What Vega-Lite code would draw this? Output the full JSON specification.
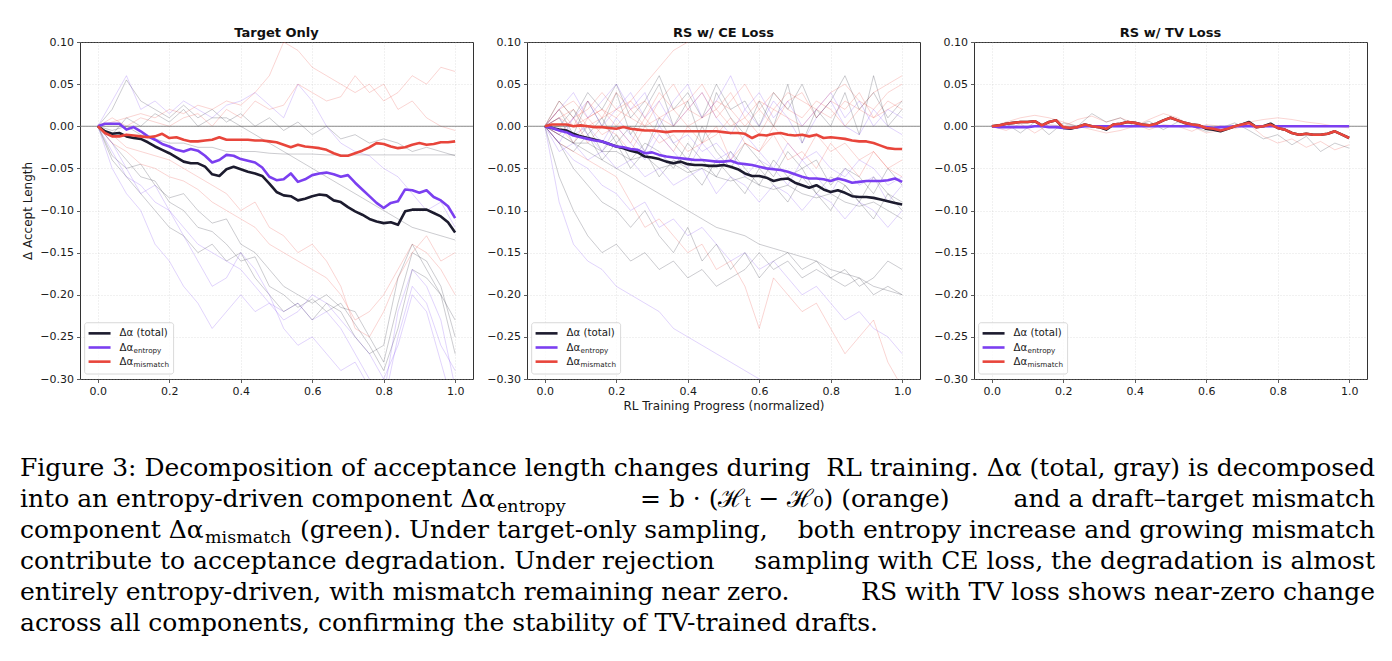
{
  "$schema": "https://vega.github.io/schema/vega-lite/v6.json",
  "description": "Decomposition of acceptance length changes during RL training: total, entropy-driven and mismatch components for three training setups, with per-run traces behind the means.",
  "background": "white",
  "padding": {"left": 20, "top": 26, "right": 5, "bottom": 5},
  "config": {
    "font": "DejaVu Sans",
    "view": {"stroke": "#333333", "strokeWidth": 1},
    "axis": {
      "labelFont": "DejaVu Sans", "labelFontSize": 11, "labelColor": "#1a1a1a", "labelPadding": 3,
      "tickColor": "#333333", "tickSize": 3.5, "tickWidth": 0.8,
      "domain": false, "grid": true, "gridColor": "#b8b8b8", "gridDash": [1, 2], "gridOpacity": 0.5, "gridWidth": 0.8,
      "titleFont": "DejaVu Sans", "titleFontSize": 12, "titleFontWeight": "normal", "titleColor": "#1a1a1a", "titlePadding": 5
    },
    "title": {"font": "DejaVu Sans", "fontSize": 13, "fontWeight": "bold", "color": "#111111", "offset": -3.5, "anchor": "middle"}
  },
  "datasets": {
    "leg": [
      {"k": "t", "lab": "Δα (total)", "sub": ""},
      {"k": "e", "lab": "Δα", "sub": "entropy"},
      {"k": "m", "lab": "Δα", "sub": "mismatch"}
    ],
    "cap": [
      {"line": 1, "part": "L", "text": "Figure 3: Decomposition of acceptance length changes during"},
      {"line": 1, "part": "R", "text": "RL training. Δα (total, gray) is decomposed"},
      {"line": 2, "part": "L", "text": "into an entropy-driven component Δα"},
      {"line": 2, "part": "S", "text": "entropy"},
      {"line": 2, "part": "M", "text": "= b · (ℋₜ − ℋ₀) (orange)"},
      {"line": 2, "part": "R", "text": "and a draft–target mismatch"},
      {"line": 3, "part": "L", "text": "component Δα"},
      {"line": 3, "part": "S", "text": "mismatch"},
      {"line": 3, "part": "M", "text": "(green). Under target-only sampling,"},
      {"line": 3, "part": "R", "text": "both entropy increase and growing mismatch"},
      {"line": 4, "part": "L", "text": "contribute to acceptance degradation. Under rejection"},
      {"line": 4, "part": "R", "text": "sampling with CE loss, the degradation is almost"},
      {"line": 5, "part": "L", "text": "entirely entropy-driven, with mismatch remaining near zero."},
      {"line": 5, "part": "R", "text": "RS with TV loss shows near-zero change"},
      {"line": 6, "part": "L", "text": "across all components, confirming the stability of TV-trained drafts."}
    ],
    "main1": [
      {"k":"t","x":0,"y":0},{"k":"t","x":0.02,"y":-0.006},{"k":"t","x":0.04,"y":-0.009},{"k":"t","x":0.06,"y":-0.008},{"k":"t","x":0.08,"y":-0.012},{"k":"t","x":0.1,"y":-0.014},{"k":"t","x":0.12,"y":-0.015},{"k":"t","x":0.14,"y":-0.019},{"k":"t","x":0.16,"y":-0.024},{"k":"t","x":0.18,"y":-0.028},{"k":"t","x":0.2,"y":-0.032},{"k":"t","x":0.22,"y":-0.037},{"k":"t","x":0.24,"y":-0.042},{"k":"t","x":0.26,"y":-0.044},{"k":"t","x":0.28,"y":-0.044},{"k":"t","x":0.3,"y":-0.048},{"k":"t","x":0.32,"y":-0.057},{"k":"t","x":0.34,"y":-0.059},{"k":"t","x":0.36,"y":-0.051},{"k":"t","x":0.38,"y":-0.048},{"k":"t","x":0.4,"y":-0.051},{"k":"t","x":0.42,"y":-0.054},{"k":"t","x":0.44,"y":-0.056},{"k":"t","x":0.46,"y":-0.059},{"k":"t","x":0.48,"y":-0.068},{"k":"t","x":0.5,"y":-0.078},{"k":"t","x":0.52,"y":-0.082},{"k":"t","x":0.54,"y":-0.083},{"k":"t","x":0.56,"y":-0.088},{"k":"t","x":0.58,"y":-0.086},{"k":"t","x":0.6,"y":-0.083},{"k":"t","x":0.62,"y":-0.081},{"k":"t","x":0.64,"y":-0.082},{"k":"t","x":0.66,"y":-0.088},{"k":"t","x":0.68,"y":-0.09},{"k":"t","x":0.7,"y":-0.096},{"k":"t","x":0.72,"y":-0.101},{"k":"t","x":0.74,"y":-0.105},{"k":"t","x":0.76,"y":-0.11},{"k":"t","x":0.78,"y":-0.113},{"k":"t","x":0.8,"y":-0.115},{"k":"t","x":0.82,"y":-0.114},{"k":"t","x":0.84,"y":-0.117},{"k":"t","x":0.86,"y":-0.101},{"k":"t","x":0.88,"y":-0.099},{"k":"t","x":0.9,"y":-0.099},{"k":"t","x":0.92,"y":-0.099},{"k":"t","x":0.94,"y":-0.103},{"k":"t","x":0.96,"y":-0.107},{"k":"t","x":0.98,"y":-0.114},{"k":"t","x":1,"y":-0.126},
      {"k":"e","x":0,"y":0},{"k":"e","x":0.02,"y":0.003},{"k":"e","x":0.04,"y":0.003},{"k":"e","x":0.06,"y":0.003},{"k":"e","x":0.08,"y":-0.004},{"k":"e","x":0.1,"y":-0.001},{"k":"e","x":0.12,"y":-0.006},{"k":"e","x":0.14,"y":-0.012},{"k":"e","x":0.16,"y":-0.016},{"k":"e","x":0.18,"y":-0.021},{"k":"e","x":0.2,"y":-0.024},{"k":"e","x":0.22,"y":-0.028},{"k":"e","x":0.24,"y":-0.03},{"k":"e","x":0.26,"y":-0.027},{"k":"e","x":0.28,"y":-0.029},{"k":"e","x":0.3,"y":-0.035},{"k":"e","x":0.32,"y":-0.043},{"k":"e","x":0.34,"y":-0.04},{"k":"e","x":0.36,"y":-0.034},{"k":"e","x":0.38,"y":-0.035},{"k":"e","x":0.4,"y":-0.039},{"k":"e","x":0.42,"y":-0.041},{"k":"e","x":0.44,"y":-0.043},{"k":"e","x":0.46,"y":-0.049},{"k":"e","x":0.48,"y":-0.06},{"k":"e","x":0.5,"y":-0.064},{"k":"e","x":0.52,"y":-0.063},{"k":"e","x":0.54,"y":-0.056},{"k":"e","x":0.56,"y":-0.066},{"k":"e","x":0.58,"y":-0.063},{"k":"e","x":0.6,"y":-0.058},{"k":"e","x":0.62,"y":-0.056},{"k":"e","x":0.64,"y":-0.055},{"k":"e","x":0.66,"y":-0.057},{"k":"e","x":0.68,"y":-0.06},{"k":"e","x":0.7,"y":-0.058},{"k":"e","x":0.72,"y":-0.067},{"k":"e","x":0.74,"y":-0.075},{"k":"e","x":0.76,"y":-0.083},{"k":"e","x":0.78,"y":-0.091},{"k":"e","x":0.8,"y":-0.097},{"k":"e","x":0.82,"y":-0.091},{"k":"e","x":0.84,"y":-0.089},{"k":"e","x":0.86,"y":-0.075},{"k":"e","x":0.88,"y":-0.076},{"k":"e","x":0.9,"y":-0.079},{"k":"e","x":0.92,"y":-0.076},{"k":"e","x":0.94,"y":-0.084},{"k":"e","x":0.96,"y":-0.088},{"k":"e","x":0.98,"y":-0.095},{"k":"e","x":1,"y":-0.109},
      {"k":"m","x":0,"y":0},{"k":"m","x":0.02,"y":-0.008},{"k":"m","x":0.04,"y":-0.012},{"k":"m","x":0.06,"y":-0.012},{"k":"m","x":0.08,"y":-0.01},{"k":"m","x":0.1,"y":-0.011},{"k":"m","x":0.12,"y":-0.012},{"k":"m","x":0.14,"y":-0.013},{"k":"m","x":0.16,"y":-0.012},{"k":"m","x":0.18,"y":-0.009},{"k":"m","x":0.2,"y":-0.014},{"k":"m","x":0.22,"y":-0.013},{"k":"m","x":0.24,"y":-0.016},{"k":"m","x":0.26,"y":-0.018},{"k":"m","x":0.28,"y":-0.018},{"k":"m","x":0.3,"y":-0.017},{"k":"m","x":0.32,"y":-0.016},{"k":"m","x":0.34,"y":-0.013},{"k":"m","x":0.36,"y":-0.016},{"k":"m","x":0.38,"y":-0.016},{"k":"m","x":0.4,"y":-0.016},{"k":"m","x":0.42,"y":-0.016},{"k":"m","x":0.44,"y":-0.017},{"k":"m","x":0.46,"y":-0.017},{"k":"m","x":0.48,"y":-0.018},{"k":"m","x":0.5,"y":-0.019},{"k":"m","x":0.52,"y":-0.022},{"k":"m","x":0.54,"y":-0.025},{"k":"m","x":0.56,"y":-0.022},{"k":"m","x":0.58,"y":-0.024},{"k":"m","x":0.6,"y":-0.025},{"k":"m","x":0.62,"y":-0.026},{"k":"m","x":0.64,"y":-0.028},{"k":"m","x":0.66,"y":-0.032},{"k":"m","x":0.68,"y":-0.035},{"k":"m","x":0.7,"y":-0.035},{"k":"m","x":0.72,"y":-0.032},{"k":"m","x":0.74,"y":-0.029},{"k":"m","x":0.76,"y":-0.025},{"k":"m","x":0.78,"y":-0.02},{"k":"m","x":0.8,"y":-0.021},{"k":"m","x":0.82,"y":-0.024},{"k":"m","x":0.84,"y":-0.026},{"k":"m","x":0.86,"y":-0.025},{"k":"m","x":0.88,"y":-0.022},{"k":"m","x":0.9,"y":-0.02},{"k":"m","x":0.92,"y":-0.022},{"k":"m","x":0.94,"y":-0.021},{"k":"m","x":0.96,"y":-0.019},{"k":"m","x":0.98,"y":-0.019},{"k":"m","x":1,"y":-0.018}
    ],
    "main2": [
      {"k":"t","x":0,"y":0},{"k":"t","x":0.02,"y":-0.002},{"k":"t","x":0.04,"y":-0.004},{"k":"t","x":0.06,"y":-0.005},{"k":"t","x":0.08,"y":-0.009},{"k":"t","x":0.1,"y":-0.012},{"k":"t","x":0.12,"y":-0.014},{"k":"t","x":0.14,"y":-0.016},{"k":"t","x":0.16,"y":-0.018},{"k":"t","x":0.18,"y":-0.021},{"k":"t","x":0.2,"y":-0.024},{"k":"t","x":0.22,"y":-0.026},{"k":"t","x":0.24,"y":-0.029},{"k":"t","x":0.26,"y":-0.031},{"k":"t","x":0.28,"y":-0.036},{"k":"t","x":0.3,"y":-0.037},{"k":"t","x":0.32,"y":-0.039},{"k":"t","x":0.34,"y":-0.042},{"k":"t","x":0.36,"y":-0.044},{"k":"t","x":0.38,"y":-0.042},{"k":"t","x":0.4,"y":-0.045},{"k":"t","x":0.42,"y":-0.046},{"k":"t","x":0.44,"y":-0.046},{"k":"t","x":0.46,"y":-0.047},{"k":"t","x":0.48,"y":-0.047},{"k":"t","x":0.5,"y":-0.046},{"k":"t","x":0.52,"y":-0.048},{"k":"t","x":0.54,"y":-0.051},{"k":"t","x":0.56,"y":-0.056},{"k":"t","x":0.58,"y":-0.059},{"k":"t","x":0.6,"y":-0.059},{"k":"t","x":0.62,"y":-0.061},{"k":"t","x":0.64,"y":-0.065},{"k":"t","x":0.66,"y":-0.063},{"k":"t","x":0.68,"y":-0.062},{"k":"t","x":0.7,"y":-0.067},{"k":"t","x":0.72,"y":-0.07},{"k":"t","x":0.74,"y":-0.073},{"k":"t","x":0.76,"y":-0.07},{"k":"t","x":0.78,"y":-0.075},{"k":"t","x":0.8,"y":-0.078},{"k":"t","x":0.82,"y":-0.076},{"k":"t","x":0.84,"y":-0.079},{"k":"t","x":0.86,"y":-0.083},{"k":"t","x":0.88,"y":-0.084},{"k":"t","x":0.9,"y":-0.084},{"k":"t","x":0.92,"y":-0.085},{"k":"t","x":0.94,"y":-0.087},{"k":"t","x":0.96,"y":-0.089},{"k":"t","x":0.98,"y":-0.091},{"k":"t","x":1,"y":-0.093},
      {"k":"e","x":0,"y":0},{"k":"e","x":0.02,"y":-0.002},{"k":"e","x":0.04,"y":-0.005},{"k":"e","x":0.06,"y":-0.007},{"k":"e","x":0.08,"y":-0.011},{"k":"e","x":0.1,"y":-0.013},{"k":"e","x":0.12,"y":-0.015},{"k":"e","x":0.14,"y":-0.017},{"k":"e","x":0.16,"y":-0.018},{"k":"e","x":0.18,"y":-0.021},{"k":"e","x":0.2,"y":-0.024},{"k":"e","x":0.22,"y":-0.025},{"k":"e","x":0.24,"y":-0.027},{"k":"e","x":0.26,"y":-0.028},{"k":"e","x":0.28,"y":-0.032},{"k":"e","x":0.3,"y":-0.031},{"k":"e","x":0.32,"y":-0.034},{"k":"e","x":0.34,"y":-0.036},{"k":"e","x":0.36,"y":-0.037},{"k":"e","x":0.38,"y":-0.038},{"k":"e","x":0.4,"y":-0.039},{"k":"e","x":0.42,"y":-0.04},{"k":"e","x":0.44,"y":-0.04},{"k":"e","x":0.46,"y":-0.041},{"k":"e","x":0.48,"y":-0.042},{"k":"e","x":0.5,"y":-0.042},{"k":"e","x":0.52,"y":-0.041},{"k":"e","x":0.54,"y":-0.044},{"k":"e","x":0.56,"y":-0.045},{"k":"e","x":0.58,"y":-0.046},{"k":"e","x":0.6,"y":-0.048},{"k":"e","x":0.62,"y":-0.05},{"k":"e","x":0.64,"y":-0.051},{"k":"e","x":0.66,"y":-0.052},{"k":"e","x":0.68,"y":-0.054},{"k":"e","x":0.7,"y":-0.057},{"k":"e","x":0.72,"y":-0.06},{"k":"e","x":0.74,"y":-0.062},{"k":"e","x":0.76,"y":-0.062},{"k":"e","x":0.78,"y":-0.063},{"k":"e","x":0.8,"y":-0.065},{"k":"e","x":0.82,"y":-0.062},{"k":"e","x":0.84,"y":-0.064},{"k":"e","x":0.86,"y":-0.067},{"k":"e","x":0.88,"y":-0.066},{"k":"e","x":0.9,"y":-0.065},{"k":"e","x":0.92,"y":-0.065},{"k":"e","x":0.94,"y":-0.065},{"k":"e","x":0.96,"y":-0.064},{"k":"e","x":0.98,"y":-0.062},{"k":"e","x":1,"y":-0.066},
      {"k":"m","x":0,"y":0},{"k":"m","x":0.02,"y":0.002},{"k":"m","x":0.04,"y":0.002},{"k":"m","x":0.06,"y":0.002},{"k":"m","x":0.08,"y":0},{"k":"m","x":0.1,"y":0.001},{"k":"m","x":0.12,"y":0},{"k":"m","x":0.14,"y":-0.001},{"k":"m","x":0.16,"y":-0.001},{"k":"m","x":0.18,"y":-0.002},{"k":"m","x":0.2,"y":-0.003},{"k":"m","x":0.22,"y":-0.001},{"k":"m","x":0.24,"y":-0.003},{"k":"m","x":0.26,"y":-0.004},{"k":"m","x":0.28,"y":-0.005},{"k":"m","x":0.3,"y":-0.005},{"k":"m","x":0.32,"y":-0.006},{"k":"m","x":0.34,"y":-0.007},{"k":"m","x":0.36,"y":-0.006},{"k":"m","x":0.38,"y":-0.006},{"k":"m","x":0.4,"y":-0.006},{"k":"m","x":0.42,"y":-0.006},{"k":"m","x":0.44,"y":-0.006},{"k":"m","x":0.46,"y":-0.006},{"k":"m","x":0.48,"y":-0.006},{"k":"m","x":0.5,"y":-0.007},{"k":"m","x":0.52,"y":-0.008},{"k":"m","x":0.54,"y":-0.008},{"k":"m","x":0.56,"y":-0.009},{"k":"m","x":0.58,"y":-0.014},{"k":"m","x":0.6,"y":-0.01},{"k":"m","x":0.62,"y":-0.011},{"k":"m","x":0.64,"y":-0.009},{"k":"m","x":0.66,"y":-0.008},{"k":"m","x":0.68,"y":-0.01},{"k":"m","x":0.7,"y":-0.011},{"k":"m","x":0.72,"y":-0.01},{"k":"m","x":0.74,"y":-0.012},{"k":"m","x":0.76,"y":-0.01},{"k":"m","x":0.78,"y":-0.014},{"k":"m","x":0.8,"y":-0.013},{"k":"m","x":0.82,"y":-0.014},{"k":"m","x":0.84,"y":-0.015},{"k":"m","x":0.86,"y":-0.017},{"k":"m","x":0.88,"y":-0.018},{"k":"m","x":0.9,"y":-0.018},{"k":"m","x":0.92,"y":-0.02},{"k":"m","x":0.94,"y":-0.023},{"k":"m","x":0.96,"y":-0.026},{"k":"m","x":0.98,"y":-0.027},{"k":"m","x":1,"y":-0.027}
    ],
    "main3": [
      {"k":"t","x":0,"y":0},{"k":"t","x":0.02,"y":0.001},{"k":"t","x":0.04,"y":0.003},{"k":"t","x":0.06,"y":0.004},{"k":"t","x":0.08,"y":0.005},{"k":"t","x":0.1,"y":0.005},{"k":"t","x":0.12,"y":0.006},{"k":"t","x":0.14,"y":0.001},{"k":"t","x":0.16,"y":0.005},{"k":"t","x":0.18,"y":0.007},{"k":"t","x":0.2,"y":-0.002},{"k":"t","x":0.22,"y":-0.003},{"k":"t","x":0.24,"y":-0.001},{"k":"t","x":0.26,"y":0.002},{"k":"t","x":0.28,"y":0},{"k":"t","x":0.3,"y":-0.001},{"k":"t","x":0.32,"y":-0.004},{"k":"t","x":0.34,"y":0.002},{"k":"t","x":0.36,"y":0.003},{"k":"t","x":0.38,"y":0.005},{"k":"t","x":0.4,"y":0.004},{"k":"t","x":0.42,"y":0.002},{"k":"t","x":0.44,"y":0.001},{"k":"t","x":0.46,"y":0.003},{"k":"t","x":0.48,"y":0.007},{"k":"t","x":0.5,"y":0.01},{"k":"t","x":0.52,"y":0.007},{"k":"t","x":0.54,"y":0.004},{"k":"t","x":0.56,"y":0.002},{"k":"t","x":0.58,"y":0.001},{"k":"t","x":0.6,"y":-0.003},{"k":"t","x":0.62,"y":-0.004},{"k":"t","x":0.64,"y":-0.006},{"k":"t","x":0.66,"y":-0.003},{"k":"t","x":0.68,"y":0},{"k":"t","x":0.7,"y":0.002},{"k":"t","x":0.72,"y":0.005},{"k":"t","x":0.74,"y":-0.001},{"k":"t","x":0.76,"y":0},{"k":"t","x":0.78,"y":0.003},{"k":"t","x":0.8,"y":-0.002},{"k":"t","x":0.82,"y":-0.004},{"k":"t","x":0.84,"y":-0.008},{"k":"t","x":0.86,"y":-0.01},{"k":"t","x":0.88,"y":-0.009},{"k":"t","x":0.9,"y":-0.01},{"k":"t","x":0.92,"y":-0.01},{"k":"t","x":0.94,"y":-0.009},{"k":"t","x":0.96,"y":-0.006},{"k":"t","x":0.98,"y":-0.01},{"k":"t","x":1,"y":-0.014},
      {"k":"e","x":0,"y":0},{"k":"e","x":0.02,"y":-0.001},{"k":"e","x":0.04,"y":-0.001},{"k":"e","x":0.06,"y":-0.001},{"k":"e","x":0.08,"y":-0.001},{"k":"e","x":0.1,"y":-0.001},{"k":"e","x":0.12,"y":0},{"k":"e","x":0.14,"y":0},{"k":"e","x":0.16,"y":-0.001},{"k":"e","x":0.18,"y":-0.001},{"k":"e","x":0.2,"y":-0.002},{"k":"e","x":0.22,"y":-0.002},{"k":"e","x":0.24,"y":-0.001},{"k":"e","x":0.26,"y":0},{"k":"e","x":0.28,"y":0},{"k":"e","x":0.3,"y":0},{"k":"e","x":0.32,"y":0},{"k":"e","x":0.34,"y":0},{"k":"e","x":0.36,"y":0},{"k":"e","x":0.38,"y":0},{"k":"e","x":0.4,"y":0},{"k":"e","x":0.42,"y":0},{"k":"e","x":0.44,"y":0},{"k":"e","x":0.46,"y":0},{"k":"e","x":0.48,"y":0},{"k":"e","x":0.5,"y":0},{"k":"e","x":0.52,"y":0},{"k":"e","x":0.54,"y":0},{"k":"e","x":0.56,"y":0},{"k":"e","x":0.58,"y":-0.001},{"k":"e","x":0.6,"y":-0.001},{"k":"e","x":0.62,"y":-0.002},{"k":"e","x":0.64,"y":-0.001},{"k":"e","x":0.66,"y":-0.001},{"k":"e","x":0.68,"y":0},{"k":"e","x":0.7,"y":0},{"k":"e","x":0.72,"y":0},{"k":"e","x":0.74,"y":0},{"k":"e","x":0.76,"y":0},{"k":"e","x":0.78,"y":0},{"k":"e","x":0.8,"y":0},{"k":"e","x":0.82,"y":0},{"k":"e","x":0.84,"y":0},{"k":"e","x":0.86,"y":0},{"k":"e","x":0.88,"y":0},{"k":"e","x":0.9,"y":0},{"k":"e","x":0.92,"y":0},{"k":"e","x":0.94,"y":0},{"k":"e","x":0.96,"y":0},{"k":"e","x":0.98,"y":0},{"k":"e","x":1,"y":0},
      {"k":"m","x":0,"y":0},{"k":"m","x":0.02,"y":0.001},{"k":"m","x":0.04,"y":0.003},{"k":"m","x":0.06,"y":0.004},{"k":"m","x":0.08,"y":0.005},{"k":"m","x":0.1,"y":0.005},{"k":"m","x":0.12,"y":0.006},{"k":"m","x":0.14,"y":0.001},{"k":"m","x":0.16,"y":0.005},{"k":"m","x":0.18,"y":0.007},{"k":"m","x":0.2,"y":-0.001},{"k":"m","x":0.22,"y":-0.002},{"k":"m","x":0.24,"y":-0.001},{"k":"m","x":0.26,"y":0.002},{"k":"m","x":0.28,"y":0},{"k":"m","x":0.3,"y":-0.001},{"k":"m","x":0.32,"y":-0.003},{"k":"m","x":0.34,"y":0.002},{"k":"m","x":0.36,"y":0.003},{"k":"m","x":0.38,"y":0.005},{"k":"m","x":0.4,"y":0.004},{"k":"m","x":0.42,"y":0.002},{"k":"m","x":0.44,"y":0.001},{"k":"m","x":0.46,"y":0.003},{"k":"m","x":0.48,"y":0.007},{"k":"m","x":0.5,"y":0.01},{"k":"m","x":0.52,"y":0.007},{"k":"m","x":0.54,"y":0.004},{"k":"m","x":0.56,"y":0.002},{"k":"m","x":0.58,"y":0.001},{"k":"m","x":0.6,"y":-0.002},{"k":"m","x":0.62,"y":-0.003},{"k":"m","x":0.64,"y":-0.005},{"k":"m","x":0.66,"y":-0.003},{"k":"m","x":0.68,"y":0},{"k":"m","x":0.7,"y":0.002},{"k":"m","x":0.72,"y":0.004},{"k":"m","x":0.74,"y":-0.001},{"k":"m","x":0.76,"y":0},{"k":"m","x":0.78,"y":0.002},{"k":"m","x":0.8,"y":-0.002},{"k":"m","x":0.82,"y":-0.004},{"k":"m","x":0.84,"y":-0.008},{"k":"m","x":0.86,"y":-0.01},{"k":"m","x":0.88,"y":-0.009},{"k":"m","x":0.9,"y":-0.01},{"k":"m","x":0.92,"y":-0.01},{"k":"m","x":0.94,"y":-0.009},{"k":"m","x":0.96,"y":-0.006},{"k":"m","x":0.98,"y":-0.01},{"k":"m","x":1,"y":-0.014}
    ],
    "runs1": [
      {"k":"t","r":1,"x":0,"y":0},{"k":"t","r":1,"x":0.04,"y":-0.035},{"k":"t","r":1,"x":0.08,"y":-0.05},{"k":"t","r":1,"x":0.12,"y":-0.045},{"k":"t","r":1,"x":0.16,"y":-0.07},{"k":"t","r":1,"x":0.2,"y":-0.085},{"k":"t","r":1,"x":0.24,"y":-0.08},{"k":"t","r":1,"x":0.28,"y":-0.1},{"k":"t","r":1,"x":0.32,"y":-0.115},{"k":"t","r":1,"x":0.36,"y":-0.11},{"k":"t","r":1,"x":0.4,"y":-0.14},{"k":"t","r":1,"x":0.44,"y":-0.15},{"k":"t","r":1,"x":0.48,"y":-0.17},{"k":"t","r":1,"x":0.52,"y":-0.19},{"k":"t","r":1,"x":0.56,"y":-0.2},{"k":"t","r":1,"x":0.6,"y":-0.21},{"k":"t","r":1,"x":0.64,"y":-0.2},{"k":"t","r":1,"x":0.68,"y":-0.215},{"k":"t","r":1,"x":0.72,"y":-0.22},{"k":"t","r":1,"x":0.76,"y":-0.25},{"k":"t","r":1,"x":0.8,"y":-0.28},{"k":"t","r":1,"x":0.84,"y":-0.21},{"k":"t","r":1,"x":0.88,"y":-0.15},{"k":"t","r":1,"x":0.92,"y":-0.16},{"k":"t","r":1,"x":0.96,"y":-0.19},{"k":"t","r":1,"x":1,"y":-0.25},
      {"k":"t","r":2,"x":0,"y":0},{"k":"t","r":2,"x":0.04,"y":-0.02},{"k":"t","r":2,"x":0.08,"y":-0.04},{"k":"t","r":2,"x":0.12,"y":-0.06},{"k":"t","r":2,"x":0.16,"y":-0.065},{"k":"t","r":2,"x":0.2,"y":-0.09},{"k":"t","r":2,"x":0.24,"y":-0.1},{"k":"t","r":2,"x":0.28,"y":-0.12},{"k":"t","r":2,"x":0.32,"y":-0.125},{"k":"t","r":2,"x":0.36,"y":-0.14},{"k":"t","r":2,"x":0.4,"y":-0.16},{"k":"t","r":2,"x":0.44,"y":-0.155},{"k":"t","r":2,"x":0.48,"y":-0.19},{"k":"t","r":2,"x":0.52,"y":-0.2},{"k":"t","r":2,"x":0.56,"y":-0.215},{"k":"t","r":2,"x":0.6,"y":-0.205},{"k":"t","r":2,"x":0.64,"y":-0.22},{"k":"t","r":2,"x":0.68,"y":-0.21},{"k":"t","r":2,"x":0.72,"y":-0.235},{"k":"t","r":2,"x":0.76,"y":-0.26},{"k":"t","r":2,"x":0.8,"y":-0.29},{"k":"t","r":2,"x":0.84,"y":-0.24},{"k":"t","r":2,"x":0.88,"y":-0.17},{"k":"t","r":2,"x":0.92,"y":-0.18},{"k":"t","r":2,"x":0.96,"y":-0.2},{"k":"t","r":2,"x":1,"y":-0.27},
      {"k":"e","r":3,"x":0,"y":0},{"k":"e","r":3,"x":0.04,"y":-0.03},{"k":"e","r":3,"x":0.08,"y":-0.06},{"k":"e","r":3,"x":0.12,"y":-0.07},{"k":"e","r":3,"x":0.16,"y":-0.09},{"k":"e","r":3,"x":0.2,"y":-0.1},{"k":"e","r":3,"x":0.24,"y":-0.12},{"k":"e","r":3,"x":0.28,"y":-0.14},{"k":"e","r":3,"x":0.32,"y":-0.15},{"k":"e","r":3,"x":0.36,"y":-0.16},{"k":"e","r":3,"x":0.4,"y":-0.17},{"k":"e","r":3,"x":0.44,"y":-0.19},{"k":"e","r":3,"x":0.48,"y":-0.21},{"k":"e","r":3,"x":0.52,"y":-0.22},{"k":"e","r":3,"x":0.56,"y":-0.21},{"k":"e","r":3,"x":0.6,"y":-0.23},{"k":"e","r":3,"x":0.64,"y":-0.22},{"k":"e","r":3,"x":0.68,"y":-0.24},{"k":"e","r":3,"x":0.72,"y":-0.27},{"k":"e","r":3,"x":0.76,"y":-0.3},{"k":"e","r":3,"x":0.8,"y":-0.32},{"k":"e","r":3,"x":0.84,"y":-0.22},{"k":"e","r":3,"x":0.88,"y":-0.17},{"k":"e","r":3,"x":0.92,"y":-0.19},{"k":"e","r":3,"x":0.96,"y":-0.23},{"k":"e","r":3,"x":1,"y":-0.31},
      {"k":"e","r":4,"x":0,"y":0},{"k":"e","r":4,"x":0.04,"y":-0.05},{"k":"e","r":4,"x":0.08,"y":-0.08},{"k":"e","r":4,"x":0.12,"y":-0.1},{"k":"e","r":4,"x":0.16,"y":-0.14},{"k":"e","r":4,"x":0.2,"y":-0.16},{"k":"e","r":4,"x":0.24,"y":-0.19},{"k":"e","r":4,"x":0.28,"y":-0.21},{"k":"e","r":4,"x":0.32,"y":-0.24},{"k":"e","r":4,"x":0.36,"y":-0.22},{"k":"e","r":4,"x":0.4,"y":-0.2},{"k":"e","r":4,"x":0.44,"y":-0.22},{"k":"e","r":4,"x":0.48,"y":-0.21},{"k":"e","r":4,"x":0.52,"y":-0.23},{"k":"e","r":4,"x":0.56,"y":-0.22},{"k":"e","r":4,"x":0.6,"y":-0.2},{"k":"e","r":4,"x":0.64,"y":-0.21},{"k":"e","r":4,"x":0.68,"y":-0.23},{"k":"e","r":4,"x":0.72,"y":-0.25},{"k":"e","r":4,"x":0.76,"y":-0.27},{"k":"e","r":4,"x":0.8,"y":-0.3},{"k":"e","r":4,"x":0.84,"y":-0.26},{"k":"e","r":4,"x":0.88,"y":-0.2},{"k":"e","r":4,"x":0.92,"y":-0.22},{"k":"e","r":4,"x":0.96,"y":-0.28},{"k":"e","r":4,"x":1,"y":-0.34},
      {"k":"m","r":5,"x":0,"y":0},{"k":"m","r":5,"x":0.04,"y":-0.02},{"k":"m","r":5,"x":0.08,"y":-0.03},{"k":"m","r":5,"x":0.12,"y":-0.045},{"k":"m","r":5,"x":0.16,"y":-0.05},{"k":"m","r":5,"x":0.2,"y":-0.06},{"k":"m","r":5,"x":0.24,"y":-0.065},{"k":"m","r":5,"x":0.28,"y":-0.075},{"k":"m","r":5,"x":0.32,"y":-0.09},{"k":"m","r":5,"x":0.36,"y":-0.1},{"k":"m","r":5,"x":0.4,"y":-0.11},{"k":"m","r":5,"x":0.44,"y":-0.12},{"k":"m","r":5,"x":0.48,"y":-0.14},{"k":"m","r":5,"x":0.52,"y":-0.15},{"k":"m","r":5,"x":0.56,"y":-0.16},{"k":"m","r":5,"x":0.6,"y":-0.17},{"k":"m","r":5,"x":0.64,"y":-0.18},{"k":"m","r":5,"x":0.68,"y":-0.2},{"k":"m","r":5,"x":0.72,"y":-0.23},{"k":"m","r":5,"x":0.76,"y":-0.22},{"k":"m","r":5,"x":0.8,"y":-0.2},{"k":"m","r":5,"x":0.84,"y":-0.17},{"k":"m","r":5,"x":0.88,"y":-0.14},{"k":"m","r":5,"x":0.92,"y":-0.15},{"k":"m","r":5,"x":0.96,"y":-0.17},{"k":"m","r":5,"x":1,"y":-0.2},
      {"k":"m","r":6,"x":0,"y":0},{"k":"m","r":6,"x":0.04,"y":-0.01},{"k":"m","r":6,"x":0.08,"y":-0.025},{"k":"m","r":6,"x":0.12,"y":-0.03},{"k":"m","r":6,"x":0.16,"y":-0.035},{"k":"m","r":6,"x":0.2,"y":-0.04},{"k":"m","r":6,"x":0.24,"y":-0.05},{"k":"m","r":6,"x":0.28,"y":-0.06},{"k":"m","r":6,"x":0.32,"y":-0.07},{"k":"m","r":6,"x":0.36,"y":-0.08},{"k":"m","r":6,"x":0.4,"y":-0.1},{"k":"m","r":6,"x":0.44,"y":-0.09},{"k":"m","r":6,"x":0.48,"y":-0.12},{"k":"m","r":6,"x":0.52,"y":-0.13},{"k":"m","r":6,"x":0.56,"y":-0.15},{"k":"m","r":6,"x":0.6,"y":-0.14},{"k":"m","r":6,"x":0.64,"y":-0.16},{"k":"m","r":6,"x":0.68,"y":-0.19},{"k":"m","r":6,"x":0.72,"y":-0.24},{"k":"m","r":6,"x":0.76,"y":-0.25},{"k":"m","r":6,"x":0.8,"y":-0.22},{"k":"m","r":6,"x":0.84,"y":-0.18},{"k":"m","r":6,"x":0.88,"y":-0.15},{"k":"m","r":6,"x":0.92,"y":-0.13},{"k":"m","r":6,"x":0.96,"y":-0.16},{"k":"m","r":6,"x":1,"y":-0.15},
      {"k":"t","r":7,"x":0,"y":0},{"k":"t","r":7,"x":0.04,"y":0.02},{"k":"t","r":7,"x":0.08,"y":0.055},{"k":"t","r":7,"x":0.12,"y":0.03},{"k":"t","r":7,"x":0.16,"y":0.02},{"k":"t","r":7,"x":0.2,"y":0.01},{"k":"t","r":7,"x":0.24,"y":0.025},{"k":"t","r":7,"x":0.28,"y":0.01},{"k":"t","r":7,"x":0.32,"y":0.02},{"k":"t","r":7,"x":0.36,"y":0.005},{"k":"t","r":7,"x":0.4,"y":0.015},{"k":"t","r":7,"x":0.44,"y":0},{"k":"t","r":7,"x":0.48,"y":0.01},{"k":"t","r":7,"x":0.52,"y":-0.005},{"k":"t","r":7,"x":0.56,"y":0.005},{"k":"t","r":7,"x":0.6,"y":-0.01},{"k":"t","r":7,"x":0.64,"y":0},{"k":"t","r":7,"x":0.68,"y":-0.015},{"k":"t","r":7,"x":0.72,"y":-0.01},{"k":"t","r":7,"x":0.76,"y":-0.02},{"k":"t","r":7,"x":0.8,"y":-0.015},{"k":"t","r":7,"x":0.84,"y":-0.02},{"k":"t","r":7,"x":0.88,"y":-0.03},{"k":"t","r":7,"x":0.92,"y":-0.025},{"k":"t","r":7,"x":0.96,"y":-0.03},{"k":"t","r":7,"x":1,"y":-0.035},
      {"k":"e","r":8,"x":0,"y":0},{"k":"e","r":8,"x":0.04,"y":0.03},{"k":"e","r":8,"x":0.08,"y":0.06},{"k":"e","r":8,"x":0.12,"y":0.02},{"k":"e","r":8,"x":0.16,"y":0.03},{"k":"e","r":8,"x":0.2,"y":0.015},{"k":"e","r":8,"x":0.24,"y":0.03},{"k":"e","r":8,"x":0.28,"y":0.02},{"k":"e","r":8,"x":0.32,"y":0.01},{"k":"e","r":8,"x":0.36,"y":0.025},{"k":"e","r":8,"x":0.4,"y":0.03},{"k":"e","r":8,"x":0.44,"y":0.04},{"k":"e","r":8,"x":0.48,"y":0.025},{"k":"e","r":8,"x":0.52,"y":0.01},{"k":"e","r":8,"x":0.56,"y":0.05},{"k":"e","r":8,"x":0.6,"y":0.03},{"k":"e","r":8,"x":0.64,"y":0},{"k":"e","r":8,"x":0.68,"y":-0.02},{"k":"e","r":8,"x":0.72,"y":-0.03},{"k":"e","r":8,"x":0.76,"y":-0.035},{"k":"e","r":8,"x":0.8,"y":-0.05},{"k":"e","r":8,"x":0.84,"y":-0.06},{"k":"e","r":8,"x":0.88,"y":-0.08},{"k":"e","r":8,"x":0.92,"y":-0.1},{"k":"e","r":8,"x":0.96,"y":-0.09},{"k":"e","r":8,"x":1,"y":-0.12},
      {"k":"m","r":9,"x":0,"y":0},{"k":"m","r":9,"x":0.04,"y":0.005},{"k":"m","r":9,"x":0.08,"y":0.01},{"k":"m","r":9,"x":0.12,"y":0.015},{"k":"m","r":9,"x":0.16,"y":0.01},{"k":"m","r":9,"x":0.2,"y":0.02},{"k":"m","r":9,"x":0.24,"y":0.015},{"k":"m","r":9,"x":0.28,"y":0.025},{"k":"m","r":9,"x":0.32,"y":0.02},{"k":"m","r":9,"x":0.36,"y":0.03},{"k":"m","r":9,"x":0.4,"y":0.025},{"k":"m","r":9,"x":0.44,"y":0.04},{"k":"m","r":9,"x":0.48,"y":0.06},{"k":"m","r":9,"x":0.52,"y":0.1},{"k":"m","r":9,"x":0.56,"y":0.09},{"k":"m","r":9,"x":0.6,"y":0.07},{"k":"m","r":9,"x":0.64,"y":0.06},{"k":"m","r":9,"x":0.68,"y":0.05},{"k":"m","r":9,"x":0.72,"y":0.04},{"k":"m","r":9,"x":0.76,"y":0.05},{"k":"m","r":9,"x":0.8,"y":0.03},{"k":"m","r":9,"x":0.84,"y":0.04},{"k":"m","r":9,"x":0.88,"y":0.06},{"k":"m","r":9,"x":0.92,"y":0.05},{"k":"m","r":9,"x":0.96,"y":0.07},{"k":"m","r":9,"x":1,"y":0.065},
      {"k":"m","r":10,"x":0,"y":0},{"k":"m","r":10,"x":0.04,"y":0.01},{"k":"m","r":10,"x":0.08,"y":0},{"k":"m","r":10,"x":0.12,"y":0.01},{"k":"m","r":10,"x":0.16,"y":0.005},{"k":"m","r":10,"x":0.2,"y":0},{"k":"m","r":10,"x":0.24,"y":0.01},{"k":"m","r":10,"x":0.28,"y":0.015},{"k":"m","r":10,"x":0.32,"y":0},{"k":"m","r":10,"x":0.36,"y":0.02},{"k":"m","r":10,"x":0.4,"y":0.01},{"k":"m","r":10,"x":0.44,"y":0.03},{"k":"m","r":10,"x":0.48,"y":0.02},{"k":"m","r":10,"x":0.52,"y":0.025},{"k":"m","r":10,"x":0.56,"y":0.05},{"k":"m","r":10,"x":0.6,"y":0.04},{"k":"m","r":10,"x":0.64,"y":0.03},{"k":"m","r":10,"x":0.68,"y":0.035},{"k":"m","r":10,"x":0.72,"y":0.06},{"k":"m","r":10,"x":0.76,"y":0.04},{"k":"m","r":10,"x":0.8,"y":0.05},{"k":"m","r":10,"x":0.84,"y":0.02},{"k":"m","r":10,"x":0.88,"y":0.03},{"k":"m","r":10,"x":0.92,"y":0.01},{"k":"m","r":10,"x":0.96,"y":0},{"k":"m","r":10,"x":1,"y":-0.005},
      {"k":"t","r":11,"x":0,"y":0},{"k":"t","r":11,"x":0.04,"y":-0.01},{"k":"t","r":11,"x":0.08,"y":0.01},{"k":"t","r":11,"x":0.12,"y":0},{"k":"t","r":11,"x":0.16,"y":0.015},{"k":"t","r":11,"x":0.2,"y":0.005},{"k":"t","r":11,"x":0.24,"y":0.02},{"k":"t","r":11,"x":0.28,"y":0},{"k":"t","r":11,"x":0.32,"y":0.01},{"k":"t","r":11,"x":0.36,"y":0.01},{"k":"t","r":11,"x":0.4,"y":0},{"k":"t","r":11,"x":0.44,"y":-0.01},{"k":"t","r":11,"x":0.48,"y":-0.02},{"k":"t","r":11,"x":0.52,"y":-0.03},{"k":"t","r":11,"x":0.56,"y":-0.04},{"k":"t","r":11,"x":0.6,"y":-0.05},{"k":"t","r":11,"x":0.64,"y":-0.06},{"k":"t","r":11,"x":0.68,"y":-0.07},{"k":"t","r":11,"x":0.72,"y":-0.08},{"k":"t","r":11,"x":0.76,"y":-0.09},{"k":"t","r":11,"x":0.8,"y":-0.1},{"k":"t","r":11,"x":0.84,"y":-0.11},{"k":"t","r":11,"x":0.88,"y":-0.12},{"k":"t","r":11,"x":0.92,"y":-0.125},{"k":"t","r":11,"x":0.96,"y":-0.13},{"k":"t","r":11,"x":1,"y":-0.135},
      {"k":"t","r":12,"x":0,"y":0},{"k":"t","r":12,"x":0.04,"y":-0.005},{"k":"t","r":12,"x":0.08,"y":0},{"k":"t","r":12,"x":0.12,"y":-0.01},{"k":"t","r":12,"x":0.16,"y":-0.015},{"k":"t","r":12,"x":0.2,"y":-0.02},{"k":"t","r":12,"x":0.24,"y":-0.02},{"k":"t","r":12,"x":0.28,"y":-0.025},{"k":"t","r":12,"x":0.32,"y":-0.025},{"k":"t","r":12,"x":0.36,"y":-0.03},{"k":"t","r":12,"x":0.4,"y":-0.03},{"k":"t","r":12,"x":0.44,"y":-0.03},{"k":"t","r":12,"x":0.48,"y":-0.032},{"k":"t","r":12,"x":0.52,"y":-0.033},{"k":"t","r":12,"x":0.56,"y":-0.033},{"k":"t","r":12,"x":0.6,"y":-0.033},{"k":"t","r":12,"x":0.64,"y":-0.034},{"k":"t","r":12,"x":0.68,"y":-0.034},{"k":"t","r":12,"x":0.72,"y":-0.034},{"k":"t","r":12,"x":0.76,"y":-0.034},{"k":"t","r":12,"x":0.8,"y":-0.034},{"k":"t","r":12,"x":0.84,"y":-0.034},{"k":"t","r":12,"x":0.88,"y":-0.034},{"k":"t","r":12,"x":0.92,"y":-0.034},{"k":"t","r":12,"x":0.96,"y":-0.034},{"k":"t","r":12,"x":1,"y":-0.034},
      {"k":"t","r":13,"x":0,"y":0},{"k":"t","r":13,"x":0.04,"y":-0.04},{"k":"t","r":13,"x":0.08,"y":-0.06},{"k":"t","r":13,"x":0.12,"y":-0.08},{"k":"t","r":13,"x":0.16,"y":-0.1},{"k":"t","r":13,"x":0.2,"y":-0.12},{"k":"t","r":13,"x":0.24,"y":-0.13},{"k":"t","r":13,"x":0.28,"y":-0.15},{"k":"t","r":13,"x":0.32,"y":-0.14},{"k":"t","r":13,"x":0.36,"y":-0.16},{"k":"t","r":13,"x":0.4,"y":-0.15},{"k":"t","r":13,"x":0.44,"y":-0.18},{"k":"t","r":13,"x":0.48,"y":-0.2},{"k":"t","r":13,"x":0.52,"y":-0.22},{"k":"t","r":13,"x":0.56,"y":-0.21},{"k":"t","r":13,"x":0.6,"y":-0.23},{"k":"t","r":13,"x":0.64,"y":-0.21},{"k":"t","r":13,"x":0.68,"y":-0.22},{"k":"t","r":13,"x":0.72,"y":-0.25},{"k":"t","r":13,"x":0.76,"y":-0.27},{"k":"t","r":13,"x":0.8,"y":-0.26},{"k":"t","r":13,"x":0.84,"y":-0.18},{"k":"t","r":13,"x":0.88,"y":-0.14},{"k":"t","r":13,"x":0.92,"y":-0.17},{"k":"t","r":13,"x":0.96,"y":-0.2},{"k":"t","r":13,"x":1,"y":-0.23},
      {"k":"e","r":14,"x":0,"y":0},{"k":"e","r":14,"x":0.04,"y":-0.02},{"k":"e","r":14,"x":0.08,"y":-0.05},{"k":"e","r":14,"x":0.12,"y":-0.08},{"k":"e","r":14,"x":0.16,"y":-0.07},{"k":"e","r":14,"x":0.2,"y":-0.1},{"k":"e","r":14,"x":0.24,"y":-0.13},{"k":"e","r":14,"x":0.28,"y":-0.16},{"k":"e","r":14,"x":0.32,"y":-0.19},{"k":"e","r":14,"x":0.36,"y":-0.18},{"k":"e","r":14,"x":0.4,"y":-0.15},{"k":"e","r":14,"x":0.44,"y":-0.17},{"k":"e","r":14,"x":0.48,"y":-0.2},{"k":"e","r":14,"x":0.52,"y":-0.24},{"k":"e","r":14,"x":0.56,"y":-0.26},{"k":"e","r":14,"x":0.6,"y":-0.25},{"k":"e","r":14,"x":0.64,"y":-0.27},{"k":"e","r":14,"x":0.68,"y":-0.29},{"k":"e","r":14,"x":0.72,"y":-0.28},{"k":"e","r":14,"x":0.76,"y":-0.31},{"k":"e","r":14,"x":0.8,"y":-0.33},{"k":"e","r":14,"x":0.84,"y":-0.25},{"k":"e","r":14,"x":0.88,"y":-0.19},{"k":"e","r":14,"x":0.92,"y":-0.21},{"k":"e","r":14,"x":0.96,"y":-0.26},{"k":"e","r":14,"x":1,"y":-0.29}
    ],
    "runs2": [
      {"k":"t","r":1,"x":0,"y":0},{"k":"t","r":1,"x":0.04,"y":0.02},{"k":"t","r":1,"x":0.08,"y":-0.01},{"k":"t","r":1,"x":0.12,"y":0.03},{"k":"t","r":1,"x":0.16,"y":0},{"k":"t","r":1,"x":0.2,"y":0.04},{"k":"t","r":1,"x":0.24,"y":-0.01},{"k":"t","r":1,"x":0.28,"y":0.02},{"k":"t","r":1,"x":0.32,"y":0.05},{"k":"t","r":1,"x":0.36,"y":0},{"k":"t","r":1,"x":0.4,"y":0.03},{"k":"t","r":1,"x":0.44,"y":-0.02},{"k":"t","r":1,"x":0.48,"y":0.04},{"k":"t","r":1,"x":0.52,"y":0.01},{"k":"t","r":1,"x":0.56,"y":-0.01},{"k":"t","r":1,"x":0.6,"y":0.03},{"k":"t","r":1,"x":0.64,"y":0},{"k":"t","r":1,"x":0.68,"y":0.05},{"k":"t","r":1,"x":0.72,"y":-0.02},{"k":"t","r":1,"x":0.76,"y":0.02},{"k":"t","r":1,"x":0.8,"y":0},{"k":"t","r":1,"x":0.84,"y":0.04},{"k":"t","r":1,"x":0.88,"y":-0.01},{"k":"t","r":1,"x":0.92,"y":0.06},{"k":"t","r":1,"x":0.96,"y":0},{"k":"t","r":1,"x":1,"y":0.02},
      {"k":"t","r":2,"x":0,"y":0},{"k":"t","r":2,"x":0.04,"y":-0.02},{"k":"t","r":2,"x":0.08,"y":-0.03},{"k":"t","r":2,"x":0.12,"y":-0.01},{"k":"t","r":2,"x":0.16,"y":-0.04},{"k":"t","r":2,"x":0.2,"y":-0.02},{"k":"t","r":2,"x":0.24,"y":-0.05},{"k":"t","r":2,"x":0.28,"y":-0.03},{"k":"t","r":2,"x":0.32,"y":-0.06},{"k":"t","r":2,"x":0.36,"y":-0.04},{"k":"t","r":2,"x":0.4,"y":-0.05},{"k":"t","r":2,"x":0.44,"y":-0.07},{"k":"t","r":2,"x":0.48,"y":-0.04},{"k":"t","r":2,"x":0.52,"y":-0.06},{"k":"t","r":2,"x":0.56,"y":-0.08},{"k":"t","r":2,"x":0.6,"y":-0.05},{"k":"t","r":2,"x":0.64,"y":-0.07},{"k":"t","r":2,"x":0.68,"y":-0.09},{"k":"t","r":2,"x":0.72,"y":-0.06},{"k":"t","r":2,"x":0.76,"y":-0.08},{"k":"t","r":2,"x":0.8,"y":-0.1},{"k":"t","r":2,"x":0.84,"y":-0.07},{"k":"t","r":2,"x":0.88,"y":-0.09},{"k":"t","r":2,"x":0.92,"y":-0.11},{"k":"t","r":2,"x":0.96,"y":-0.08},{"k":"t","r":2,"x":1,"y":-0.1},
      {"k":"t","r":3,"x":0,"y":0},{"k":"t","r":3,"x":0.04,"y":0},{"k":"t","r":3,"x":0.08,"y":0.02},{"k":"t","r":3,"x":0.12,"y":-0.01},{"k":"t","r":3,"x":0.16,"y":0.01},{"k":"t","r":3,"x":0.2,"y":-0.02},{"k":"t","r":3,"x":0.24,"y":0},{"k":"t","r":3,"x":0.28,"y":-0.03},{"k":"t","r":3,"x":0.32,"y":0.01},{"k":"t","r":3,"x":0.36,"y":-0.02},{"k":"t","r":3,"x":0.4,"y":-0.04},{"k":"t","r":3,"x":0.44,"y":0},{"k":"t","r":3,"x":0.48,"y":-0.03},{"k":"t","r":3,"x":0.52,"y":-0.05},{"k":"t","r":3,"x":0.56,"y":-0.02},{"k":"t","r":3,"x":0.6,"y":-0.04},{"k":"t","r":3,"x":0.64,"y":-0.06},{"k":"t","r":3,"x":0.68,"y":-0.03},{"k":"t","r":3,"x":0.72,"y":-0.05},{"k":"t","r":3,"x":0.76,"y":-0.04},{"k":"t","r":3,"x":0.8,"y":-0.07},{"k":"t","r":3,"x":0.84,"y":-0.05},{"k":"t","r":3,"x":0.88,"y":-0.06},{"k":"t","r":3,"x":0.92,"y":-0.08},{"k":"t","r":3,"x":0.96,"y":-0.05},{"k":"t","r":3,"x":1,"y":-0.07},
      {"k":"e","r":4,"x":0,"y":0},{"k":"e","r":4,"x":0.04,"y":-0.01},{"k":"e","r":4,"x":0.08,"y":0.01},{"k":"e","r":4,"x":0.12,"y":0.03},{"k":"e","r":4,"x":0.16,"y":0},{"k":"e","r":4,"x":0.2,"y":0.02},{"k":"e","r":4,"x":0.24,"y":0.04},{"k":"e","r":4,"x":0.28,"y":0.01},{"k":"e","r":4,"x":0.32,"y":0.03},{"k":"e","r":4,"x":0.36,"y":0},{"k":"e","r":4,"x":0.4,"y":0.02},{"k":"e","r":4,"x":0.44,"y":0.04},{"k":"e","r":4,"x":0.48,"y":0.01},{"k":"e","r":4,"x":0.52,"y":-0.01},{"k":"e","r":4,"x":0.56,"y":0.02},{"k":"e","r":4,"x":0.6,"y":0},{"k":"e","r":4,"x":0.64,"y":0.03},{"k":"e","r":4,"x":0.68,"y":0.01},{"k":"e","r":4,"x":0.72,"y":-0.02},{"k":"e","r":4,"x":0.76,"y":0.01},{"k":"e","r":4,"x":0.8,"y":0.03},{"k":"e","r":4,"x":0.84,"y":0},{"k":"e","r":4,"x":0.88,"y":-0.01},{"k":"e","r":4,"x":0.92,"y":0.02},{"k":"e","r":4,"x":0.96,"y":0},{"k":"e","r":4,"x":1,"y":-0.01},
      {"k":"e","r":5,"x":0,"y":0},{"k":"e","r":5,"x":0.04,"y":-0.03},{"k":"e","r":5,"x":0.08,"y":-0.02},{"k":"e","r":5,"x":0.12,"y":-0.04},{"k":"e","r":5,"x":0.16,"y":-0.03},{"k":"e","r":5,"x":0.2,"y":-0.05},{"k":"e","r":5,"x":0.24,"y":-0.04},{"k":"e","r":5,"x":0.28,"y":-0.06},{"k":"e","r":5,"x":0.32,"y":-0.05},{"k":"e","r":5,"x":0.36,"y":-0.07},{"k":"e","r":5,"x":0.4,"y":-0.06},{"k":"e","r":5,"x":0.44,"y":-0.05},{"k":"e","r":5,"x":0.48,"y":-0.08},{"k":"e","r":5,"x":0.52,"y":-0.06},{"k":"e","r":5,"x":0.56,"y":-0.07},{"k":"e","r":5,"x":0.6,"y":-0.09},{"k":"e","r":5,"x":0.64,"y":-0.07},{"k":"e","r":5,"x":0.68,"y":-0.08},{"k":"e","r":5,"x":0.72,"y":-0.1},{"k":"e","r":5,"x":0.76,"y":-0.08},{"k":"e","r":5,"x":0.8,"y":-0.09},{"k":"e","r":5,"x":0.84,"y":-0.11},{"k":"e","r":5,"x":0.88,"y":-0.09},{"k":"e","r":5,"x":0.92,"y":-0.1},{"k":"e","r":5,"x":0.96,"y":-0.12},{"k":"e","r":5,"x":1,"y":-0.1},
      {"k":"e","r":6,"x":0,"y":0},{"k":"e","r":6,"x":0.04,"y":0.01},{"k":"e","r":6,"x":0.08,"y":-0.01},{"k":"e","r":6,"x":0.12,"y":0},{"k":"e","r":6,"x":0.16,"y":-0.02},{"k":"e","r":6,"x":0.2,"y":0.01},{"k":"e","r":6,"x":0.24,"y":-0.01},{"k":"e","r":6,"x":0.28,"y":-0.03},{"k":"e","r":6,"x":0.32,"y":0},{"k":"e","r":6,"x":0.36,"y":-0.02},{"k":"e","r":6,"x":0.4,"y":-0.01},{"k":"e","r":6,"x":0.44,"y":-0.03},{"k":"e","r":6,"x":0.48,"y":-0.02},{"k":"e","r":6,"x":0.52,"y":-0.04},{"k":"e","r":6,"x":0.56,"y":-0.01},{"k":"e","r":6,"x":0.6,"y":-0.03},{"k":"e","r":6,"x":0.64,"y":-0.05},{"k":"e","r":6,"x":0.68,"y":-0.02},{"k":"e","r":6,"x":0.72,"y":-0.04},{"k":"e","r":6,"x":0.76,"y":-0.03},{"k":"e","r":6,"x":0.8,"y":-0.05},{"k":"e","r":6,"x":0.84,"y":-0.06},{"k":"e","r":6,"x":0.88,"y":-0.04},{"k":"e","r":6,"x":0.92,"y":-0.05},{"k":"e","r":6,"x":0.96,"y":-0.07},{"k":"e","r":6,"x":1,"y":-0.06},
      {"k":"m","r":7,"x":0,"y":0},{"k":"m","r":7,"x":0.04,"y":0.03},{"k":"m","r":7,"x":0.08,"y":0.01},{"k":"m","r":7,"x":0.12,"y":0.02},{"k":"m","r":7,"x":0.16,"y":0.04},{"k":"m","r":7,"x":0.2,"y":0.02},{"k":"m","r":7,"x":0.24,"y":0.03},{"k":"m","r":7,"x":0.28,"y":0.01},{"k":"m","r":7,"x":0.32,"y":0.04},{"k":"m","r":7,"x":0.36,"y":0.02},{"k":"m","r":7,"x":0.4,"y":0.03},{"k":"m","r":7,"x":0.44,"y":0.05},{"k":"m","r":7,"x":0.48,"y":0.02},{"k":"m","r":7,"x":0.52,"y":0.04},{"k":"m","r":7,"x":0.56,"y":0.01},{"k":"m","r":7,"x":0.6,"y":0.03},{"k":"m","r":7,"x":0.64,"y":0.02},{"k":"m","r":7,"x":0.68,"y":0.04},{"k":"m","r":7,"x":0.72,"y":0.03},{"k":"m","r":7,"x":0.76,"y":0.02},{"k":"m","r":7,"x":0.8,"y":0.04},{"k":"m","r":7,"x":0.84,"y":0.05},{"k":"m","r":7,"x":0.88,"y":0.03},{"k":"m","r":7,"x":0.92,"y":0.02},{"k":"m","r":7,"x":0.96,"y":0.04},{"k":"m","r":7,"x":1,"y":0.05},
      {"k":"m","r":8,"x":0,"y":0},{"k":"m","r":8,"x":0.04,"y":0},{"k":"m","r":8,"x":0.08,"y":-0.02},{"k":"m","r":8,"x":0.12,"y":0.01},{"k":"m","r":8,"x":0.16,"y":-0.01},{"k":"m","r":8,"x":0.2,"y":0},{"k":"m","r":8,"x":0.24,"y":-0.02},{"k":"m","r":8,"x":0.28,"y":0.01},{"k":"m","r":8,"x":0.32,"y":-0.01},{"k":"m","r":8,"x":0.36,"y":-0.03},{"k":"m","r":8,"x":0.4,"y":0},{"k":"m","r":8,"x":0.44,"y":-0.02},{"k":"m","r":8,"x":0.48,"y":-0.01},{"k":"m","r":8,"x":0.52,"y":0.01},{"k":"m","r":8,"x":0.56,"y":-0.02},{"k":"m","r":8,"x":0.6,"y":-0.03},{"k":"m","r":8,"x":0.64,"y":0},{"k":"m","r":8,"x":0.68,"y":-0.02},{"k":"m","r":8,"x":0.72,"y":-0.04},{"k":"m","r":8,"x":0.76,"y":-0.01},{"k":"m","r":8,"x":0.8,"y":-0.03},{"k":"m","r":8,"x":0.84,"y":-0.02},{"k":"m","r":8,"x":0.88,"y":-0.04},{"k":"m","r":8,"x":0.92,"y":-0.03},{"k":"m","r":8,"x":0.96,"y":-0.05},{"k":"m","r":8,"x":1,"y":-0.04},
      {"k":"m","r":9,"x":0,"y":0},{"k":"m","r":9,"x":0.04,"y":0.02},{"k":"m","r":9,"x":0.08,"y":0.03},{"k":"m","r":9,"x":0.12,"y":0.01},{"k":"m","r":9,"x":0.16,"y":0.02},{"k":"m","r":9,"x":0.2,"y":0},{"k":"m","r":9,"x":0.24,"y":0.02},{"k":"m","r":9,"x":0.28,"y":0.03},{"k":"m","r":9,"x":0.32,"y":0.01},{"k":"m","r":9,"x":0.36,"y":0},{"k":"m","r":9,"x":0.4,"y":0.02},{"k":"m","r":9,"x":0.44,"y":0.01},{"k":"m","r":9,"x":0.48,"y":0.03},{"k":"m","r":9,"x":0.52,"y":0.02},{"k":"m","r":9,"x":0.56,"y":0},{"k":"m","r":9,"x":0.6,"y":0.02},{"k":"m","r":9,"x":0.64,"y":0.04},{"k":"m","r":9,"x":0.68,"y":0.02},{"k":"m","r":9,"x":0.72,"y":0.01},{"k":"m","r":9,"x":0.76,"y":0.03},{"k":"m","r":9,"x":0.8,"y":0.02},{"k":"m","r":9,"x":0.84,"y":0},{"k":"m","r":9,"x":0.88,"y":0.02},{"k":"m","r":9,"x":0.92,"y":0.01},{"k":"m","r":9,"x":0.96,"y":0.03},{"k":"m","r":9,"x":1,"y":0.02},
      {"k":"t","r":10,"x":0,"y":0},{"k":"t","r":10,"x":0.04,"y":-0.01},{"k":"t","r":10,"x":0.08,"y":-0.02},{"k":"t","r":10,"x":0.12,"y":-0.02},{"k":"t","r":10,"x":0.16,"y":-0.03},{"k":"t","r":10,"x":0.2,"y":-0.03},{"k":"t","r":10,"x":0.24,"y":-0.04},{"k":"t","r":10,"x":0.28,"y":-0.035},{"k":"t","r":10,"x":0.32,"y":-0.05},{"k":"t","r":10,"x":0.36,"y":-0.045},{"k":"t","r":10,"x":0.4,"y":-0.055},{"k":"t","r":10,"x":0.44,"y":-0.05},{"k":"t","r":10,"x":0.48,"y":-0.06},{"k":"t","r":10,"x":0.52,"y":-0.065},{"k":"t","r":10,"x":0.56,"y":-0.06},{"k":"t","r":10,"x":0.6,"y":-0.07},{"k":"t","r":10,"x":0.64,"y":-0.075},{"k":"t","r":10,"x":0.68,"y":-0.07},{"k":"t","r":10,"x":0.72,"y":-0.08},{"k":"t","r":10,"x":0.76,"y":-0.085},{"k":"t","r":10,"x":0.8,"y":-0.08},{"k":"t","r":10,"x":0.84,"y":-0.09},{"k":"t","r":10,"x":0.88,"y":-0.095},{"k":"t","r":10,"x":0.92,"y":-0.09},{"k":"t","r":10,"x":0.96,"y":-0.1},{"k":"t","r":10,"x":1,"y":-0.11},
      {"k":"m","r":11,"x":0,"y":0},{"k":"m","r":11,"x":0.04,"y":0.01},{"k":"m","r":11,"x":0.08,"y":0.02},{"k":"m","r":11,"x":0.12,"y":0},{"k":"m","r":11,"x":0.16,"y":0.01},{"k":"m","r":11,"x":0.2,"y":0.02},{"k":"m","r":11,"x":0.24,"y":0.01},{"k":"m","r":11,"x":0.28,"y":0},{"k":"m","r":11,"x":0.32,"y":0.01},{"k":"m","r":11,"x":0.36,"y":0.02},{"k":"m","r":11,"x":0.4,"y":0},{"k":"m","r":11,"x":0.44,"y":0.01},{"k":"m","r":11,"x":0.48,"y":0.02},{"k":"m","r":11,"x":0.52,"y":0},{"k":"m","r":11,"x":0.56,"y":0.01},{"k":"m","r":11,"x":0.6,"y":-0.01},{"k":"m","r":11,"x":0.64,"y":0.02},{"k":"m","r":11,"x":0.68,"y":0.01},{"k":"m","r":11,"x":0.72,"y":0},{"k":"m","r":11,"x":0.76,"y":0.02},{"k":"m","r":11,"x":0.8,"y":0.01},{"k":"m","r":11,"x":0.84,"y":0.03},{"k":"m","r":11,"x":0.88,"y":0.02},{"k":"m","r":11,"x":0.92,"y":0.04},{"k":"m","r":11,"x":0.96,"y":0.05},{"k":"m","r":11,"x":1,"y":0.06},
      {"k":"e","r":12,"x":0,"y":0},{"k":"e","r":12,"x":0.04,"y":-0.09},{"k":"e","r":12,"x":0.08,"y":-0.14},{"k":"e","r":12,"x":0.12,"y":-0.16},{"k":"e","r":12,"x":0.16,"y":-0.17},{"k":"e","r":12,"x":0.2,"y":-0.19},{"k":"e","r":12,"x":0.24,"y":-0.2},{"k":"e","r":12,"x":0.28,"y":-0.21},{"k":"e","r":12,"x":0.32,"y":-0.22},{"k":"e","r":12,"x":0.36,"y":-0.24},{"k":"e","r":12,"x":0.4,"y":-0.25},{"k":"e","r":12,"x":0.44,"y":-0.26},{"k":"e","r":12,"x":0.48,"y":-0.27},{"k":"e","r":12,"x":0.52,"y":-0.28},{"k":"e","r":12,"x":0.56,"y":-0.29},{"k":"e","r":12,"x":0.6,"y":-0.3},{"k":"e","r":12,"x":0.64,"y":-0.31},{"k":"e","r":12,"x":0.68,"y":-0.32},{"k":"e","r":12,"x":0.72,"y":-0.33},{"k":"e","r":12,"x":0.76,"y":-0.34},{"k":"e","r":12,"x":0.8,"y":-0.35},{"k":"e","r":12,"x":0.84,"y":-0.36},{"k":"e","r":12,"x":0.88,"y":-0.37},{"k":"e","r":12,"x":0.92,"y":-0.38},{"k":"e","r":12,"x":0.96,"y":-0.39},{"k":"e","r":12,"x":1,"y":-0.4},
      {"k":"t","r":13,"x":0,"y":0},{"k":"t","r":13,"x":0.04,"y":-0.06},{"k":"t","r":13,"x":0.08,"y":-0.1},{"k":"t","r":13,"x":0.12,"y":-0.13},{"k":"t","r":13,"x":0.16,"y":-0.15},{"k":"t","r":13,"x":0.2,"y":-0.14},{"k":"t","r":13,"x":0.24,"y":-0.16},{"k":"t","r":13,"x":0.28,"y":-0.15},{"k":"t","r":13,"x":0.32,"y":-0.17},{"k":"t","r":13,"x":0.36,"y":-0.16},{"k":"t","r":13,"x":0.4,"y":-0.18},{"k":"t","r":13,"x":0.44,"y":-0.17},{"k":"t","r":13,"x":0.48,"y":-0.19},{"k":"t","r":13,"x":0.52,"y":-0.18},{"k":"t","r":13,"x":0.56,"y":-0.17},{"k":"t","r":13,"x":0.6,"y":-0.15},{"k":"t","r":13,"x":0.64,"y":-0.17},{"k":"t","r":13,"x":0.68,"y":-0.16},{"k":"t","r":13,"x":0.72,"y":-0.18},{"k":"t","r":13,"x":0.76,"y":-0.17},{"k":"t","r":13,"x":0.8,"y":-0.18},{"k":"t","r":13,"x":0.84,"y":-0.19},{"k":"t","r":13,"x":0.88,"y":-0.18},{"k":"t","r":13,"x":0.92,"y":-0.2},{"k":"t","r":13,"x":0.96,"y":-0.19},{"k":"t","r":13,"x":1,"y":-0.2},
      {"k":"m","r":14,"x":0,"y":0},{"k":"m","r":14,"x":0.04,"y":-0.02},{"k":"m","r":14,"x":0.08,"y":-0.03},{"k":"m","r":14,"x":0.12,"y":-0.04},{"k":"m","r":14,"x":0.16,"y":-0.05},{"k":"m","r":14,"x":0.2,"y":-0.06},{"k":"m","r":14,"x":0.24,"y":-0.09},{"k":"m","r":14,"x":0.28,"y":-0.12},{"k":"m","r":14,"x":0.32,"y":-0.11},{"k":"m","r":14,"x":0.36,"y":-0.13},{"k":"m","r":14,"x":0.4,"y":-0.15},{"k":"m","r":14,"x":0.44,"y":-0.14},{"k":"m","r":14,"x":0.48,"y":-0.17},{"k":"m","r":14,"x":0.52,"y":-0.16},{"k":"m","r":14,"x":0.56,"y":-0.19},{"k":"m","r":14,"x":0.6,"y":-0.24},{"k":"m","r":14,"x":0.64,"y":-0.18},{"k":"m","r":14,"x":0.68,"y":-0.2},{"k":"m","r":14,"x":0.72,"y":-0.22},{"k":"m","r":14,"x":0.76,"y":-0.21},{"k":"m","r":14,"x":0.8,"y":-0.24},{"k":"m","r":14,"x":0.84,"y":-0.27},{"k":"m","r":14,"x":0.88,"y":-0.25},{"k":"m","r":14,"x":0.92,"y":-0.23},{"k":"m","r":14,"x":0.96,"y":-0.28},{"k":"m","r":14,"x":1,"y":-0.31},
      {"k":"t","r":15,"x":0,"y":0},{"k":"t","r":15,"x":0.04,"y":-0.01},{"k":"t","r":15,"x":0.08,"y":-0.02},{"k":"t","r":15,"x":0.12,"y":-0.03},{"k":"t","r":15,"x":0.16,"y":-0.04},{"k":"t","r":15,"x":0.2,"y":-0.05},{"k":"t","r":15,"x":0.24,"y":-0.06},{"k":"t","r":15,"x":0.28,"y":-0.07},{"k":"t","r":15,"x":0.32,"y":-0.08},{"k":"t","r":15,"x":0.36,"y":-0.09},{"k":"t","r":15,"x":0.4,"y":-0.1},{"k":"t","r":15,"x":0.44,"y":-0.11},{"k":"t","r":15,"x":0.48,"y":-0.12},{"k":"t","r":15,"x":0.52,"y":-0.125},{"k":"t","r":15,"x":0.56,"y":-0.13},{"k":"t","r":15,"x":0.6,"y":-0.14},{"k":"t","r":15,"x":0.64,"y":-0.145},{"k":"t","r":15,"x":0.68,"y":-0.15},{"k":"t","r":15,"x":0.72,"y":-0.155},{"k":"t","r":15,"x":0.76,"y":-0.16},{"k":"t","r":15,"x":0.8,"y":-0.17},{"k":"t","r":15,"x":0.84,"y":-0.175},{"k":"t","r":15,"x":0.88,"y":-0.18},{"k":"t","r":15,"x":0.92,"y":-0.19},{"k":"t","r":15,"x":0.96,"y":-0.195},{"k":"t","r":15,"x":1,"y":-0.2},
      {"k":"e","r":16,"x":0,"y":0},{"k":"e","r":16,"x":0.04,"y":-0.02},{"k":"e","r":16,"x":0.08,"y":-0.04},{"k":"e","r":16,"x":0.12,"y":-0.05},{"k":"e","r":16,"x":0.16,"y":-0.07},{"k":"e","r":16,"x":0.2,"y":-0.08},{"k":"e","r":16,"x":0.24,"y":-0.1},{"k":"e","r":16,"x":0.28,"y":-0.09},{"k":"e","r":16,"x":0.32,"y":-0.12},{"k":"e","r":16,"x":0.36,"y":-0.11},{"k":"e","r":16,"x":0.4,"y":-0.13},{"k":"e","r":16,"x":0.44,"y":-0.12},{"k":"e","r":16,"x":0.48,"y":-0.14},{"k":"e","r":16,"x":0.52,"y":-0.16},{"k":"e","r":16,"x":0.56,"y":-0.15},{"k":"e","r":16,"x":0.6,"y":-0.17},{"k":"e","r":16,"x":0.64,"y":-0.16},{"k":"e","r":16,"x":0.68,"y":-0.18},{"k":"e","r":16,"x":0.72,"y":-0.2},{"k":"e","r":16,"x":0.76,"y":-0.19},{"k":"e","r":16,"x":0.8,"y":-0.21},{"k":"e","r":16,"x":0.84,"y":-0.23},{"k":"e","r":16,"x":0.88,"y":-0.22},{"k":"e","r":16,"x":0.92,"y":-0.24},{"k":"e","r":16,"x":0.96,"y":-0.25},{"k":"e","r":16,"x":1,"y":-0.27},
      {"k":"m","r":17,"x":0,"y":0},{"k":"m","r":17,"x":0.04,"y":0.01},{"k":"m","r":17,"x":0.08,"y":0},{"k":"m","r":17,"x":0.12,"y":0.01},{"k":"m","r":17,"x":0.16,"y":0.02},{"k":"m","r":17,"x":0.2,"y":0.01},{"k":"m","r":17,"x":0.24,"y":0.03},{"k":"m","r":17,"x":0.28,"y":0.05},{"k":"m","r":17,"x":0.32,"y":0.07},{"k":"m","r":17,"x":0.36,"y":0.09},{"k":"m","r":17,"x":0.4,"y":0.1},{"k":"m","r":17,"x":0.44,"y":0.12},{"k":"m","r":17,"x":0.48,"y":0.13},{"k":"m","r":17,"x":0.52,"y":0.12},{"k":"m","r":17,"x":0.56,"y":0.14},{"k":"m","r":17,"x":0.6,"y":0.13},{"k":"m","r":17,"x":0.64,"y":0.12},{"k":"m","r":17,"x":0.68,"y":0.14},{"k":"m","r":17,"x":0.72,"y":0.13},{"k":"m","r":17,"x":0.76,"y":0.12},{"k":"m","r":17,"x":0.8,"y":0.13},{"k":"m","r":17,"x":0.84,"y":0.12},{"k":"m","r":17,"x":0.88,"y":0.11},{"k":"m","r":17,"x":0.92,"y":0.12},{"k":"m","r":17,"x":0.96,"y":0.11},{"k":"m","r":17,"x":1,"y":0.12},
      {"k":"t","r":18,"x":0,"y":0},{"k":"t","r":18,"x":0.04,"y":-0.02},{"k":"t","r":18,"x":0.08,"y":-0.05},{"k":"t","r":18,"x":0.12,"y":-0.07},{"k":"t","r":18,"x":0.16,"y":-0.09},{"k":"t","r":18,"x":0.2,"y":-0.1},{"k":"t","r":18,"x":0.24,"y":-0.12},{"k":"t","r":18,"x":0.28,"y":-0.1},{"k":"t","r":18,"x":0.32,"y":-0.13},{"k":"t","r":18,"x":0.36,"y":-0.15},{"k":"t","r":18,"x":0.4,"y":-0.12},{"k":"t","r":18,"x":0.44,"y":-0.16},{"k":"t","r":18,"x":0.48,"y":-0.14},{"k":"t","r":18,"x":0.52,"y":-0.17},{"k":"t","r":18,"x":0.56,"y":-0.15},{"k":"t","r":18,"x":0.6,"y":-0.18},{"k":"t","r":18,"x":0.64,"y":-0.16},{"k":"t","r":18,"x":0.68,"y":-0.15},{"k":"t","r":18,"x":0.72,"y":-0.17},{"k":"t","r":18,"x":0.76,"y":-0.16},{"k":"t","r":18,"x":0.8,"y":-0.18},{"k":"t","r":18,"x":0.84,"y":-0.17},{"k":"t","r":18,"x":0.88,"y":-0.19},{"k":"t","r":18,"x":0.92,"y":-0.18},{"k":"t","r":18,"x":0.96,"y":-0.16},{"k":"t","r":18,"x":1,"y":-0.17},
      {"k":"t","r":19,"x":0,"y":0},{"k":"t","r":19,"x":0.04,"y":0.01},{"k":"t","r":19,"x":0.08,"y":-0.02},{"k":"t","r":19,"x":0.12,"y":0},{"k":"t","r":19,"x":0.16,"y":-0.03},{"k":"t","r":19,"x":0.2,"y":-0.01},{"k":"t","r":19,"x":0.24,"y":-0.04},{"k":"t","r":19,"x":0.28,"y":-0.02},{"k":"t","r":19,"x":0.32,"y":-0.03},{"k":"t","r":19,"x":0.36,"y":-0.05},{"k":"t","r":19,"x":0.4,"y":-0.02},{"k":"t","r":19,"x":0.44,"y":-0.04},{"k":"t","r":19,"x":0.48,"y":-0.06},{"k":"t","r":19,"x":0.52,"y":-0.03},{"k":"t","r":19,"x":0.56,"y":-0.05},{"k":"t","r":19,"x":0.6,"y":-0.07},{"k":"t","r":19,"x":0.64,"y":-0.04},{"k":"t","r":19,"x":0.68,"y":-0.06},{"k":"t","r":19,"x":0.72,"y":-0.05},{"k":"t","r":19,"x":0.76,"y":-0.08},{"k":"t","r":19,"x":0.8,"y":-0.06},{"k":"t","r":19,"x":0.84,"y":-0.07},{"k":"t","r":19,"x":0.88,"y":-0.09},{"k":"t","r":19,"x":0.92,"y":-0.06},{"k":"t","r":19,"x":0.96,"y":-0.08},{"k":"t","r":19,"x":1,"y":-0.09},
      {"k":"e","r":20,"x":0,"y":0},{"k":"e","r":20,"x":0.04,"y":-0.02},{"k":"e","r":20,"x":0.08,"y":0.01},{"k":"e","r":20,"x":0.12,"y":-0.01},{"k":"e","r":20,"x":0.16,"y":-0.03},{"k":"e","r":20,"x":0.2,"y":0},{"k":"e","r":20,"x":0.24,"y":-0.02},{"k":"e","r":20,"x":0.28,"y":-0.04},{"k":"e","r":20,"x":0.32,"y":-0.01},{"k":"e","r":20,"x":0.36,"y":-0.03},{"k":"e","r":20,"x":0.4,"y":-0.05},{"k":"e","r":20,"x":0.44,"y":-0.02},{"k":"e","r":20,"x":0.48,"y":-0.04},{"k":"e","r":20,"x":0.52,"y":-0.03},{"k":"e","r":20,"x":0.56,"y":-0.06},{"k":"e","r":20,"x":0.6,"y":-0.04},{"k":"e","r":20,"x":0.64,"y":-0.05},{"k":"e","r":20,"x":0.68,"y":-0.07},{"k":"e","r":20,"x":0.72,"y":-0.04},{"k":"e","r":20,"x":0.76,"y":-0.06},{"k":"e","r":20,"x":0.8,"y":-0.08},{"k":"e","r":20,"x":0.84,"y":-0.05},{"k":"e","r":20,"x":0.88,"y":-0.07},{"k":"e","r":20,"x":0.92,"y":-0.06},{"k":"e","r":20,"x":0.96,"y":-0.09},{"k":"e","r":20,"x":1,"y":-0.07},
      {"k":"m","r":21,"x":0,"y":0},{"k":"m","r":21,"x":0.04,"y":0.02},{"k":"m","r":21,"x":0.08,"y":0},{"k":"m","r":21,"x":0.12,"y":0.03},{"k":"m","r":21,"x":0.16,"y":0.01},{"k":"m","r":21,"x":0.2,"y":0.04},{"k":"m","r":21,"x":0.24,"y":0.02},{"k":"m","r":21,"x":0.28,"y":0},{"k":"m","r":21,"x":0.32,"y":0.03},{"k":"m","r":21,"x":0.36,"y":0.05},{"k":"m","r":21,"x":0.4,"y":0.02},{"k":"m","r":21,"x":0.44,"y":0.04},{"k":"m","r":21,"x":0.48,"y":0.01},{"k":"m","r":21,"x":0.52,"y":0.03},{"k":"m","r":21,"x":0.56,"y":0.05},{"k":"m","r":21,"x":0.6,"y":0.02},{"k":"m","r":21,"x":0.64,"y":0},{"k":"m","r":21,"x":0.68,"y":0.03},{"k":"m","r":21,"x":0.72,"y":0.04},{"k":"m","r":21,"x":0.76,"y":0.01},{"k":"m","r":21,"x":0.8,"y":0.03},{"k":"m","r":21,"x":0.84,"y":0.02},{"k":"m","r":21,"x":0.88,"y":0.04},{"k":"m","r":21,"x":0.92,"y":0.01},{"k":"m","r":21,"x":0.96,"y":0.02},{"k":"m","r":21,"x":1,"y":0.03},
      {"k":"t","r":22,"x":0,"y":0},{"k":"t","r":22,"x":0.04,"y":0.03},{"k":"t","r":22,"x":0.08,"y":0.01},{"k":"t","r":22,"x":0.12,"y":0.04},{"k":"t","r":22,"x":0.16,"y":0.02},{"k":"t","r":22,"x":0.2,"y":0.05},{"k":"t","r":22,"x":0.24,"y":0.01},{"k":"t","r":22,"x":0.28,"y":0.03},{"k":"t","r":22,"x":0.32,"y":0.06},{"k":"t","r":22,"x":0.36,"y":0.02},{"k":"t","r":22,"x":0.4,"y":0.04},{"k":"t","r":22,"x":0.44,"y":0.01},{"k":"t","r":22,"x":0.48,"y":0.05},{"k":"t","r":22,"x":0.52,"y":0.02},{"k":"t","r":22,"x":0.56,"y":0.03},{"k":"t","r":22,"x":0.6,"y":0},{"k":"t","r":22,"x":0.64,"y":0.04},{"k":"t","r":22,"x":0.68,"y":0.02},{"k":"t","r":22,"x":0.72,"y":0.05},{"k":"t","r":22,"x":0.76,"y":0.01},{"k":"t","r":22,"x":0.8,"y":0.03},{"k":"t","r":22,"x":0.84,"y":0.06},{"k":"t","r":22,"x":0.88,"y":0.02},{"k":"t","r":22,"x":0.92,"y":0.04},{"k":"t","r":22,"x":0.96,"y":0.01},{"k":"t","r":22,"x":1,"y":0.03},
      {"k":"e","r":23,"x":0,"y":0},{"k":"e","r":23,"x":0.04,"y":0.02},{"k":"e","r":23,"x":0.08,"y":0.04},{"k":"e","r":23,"x":0.12,"y":0.01},{"k":"e","r":23,"x":0.16,"y":0.03},{"k":"e","r":23,"x":0.2,"y":0.05},{"k":"e","r":23,"x":0.24,"y":0.02},{"k":"e","r":23,"x":0.28,"y":0.04},{"k":"e","r":23,"x":0.32,"y":0},{"k":"e","r":23,"x":0.36,"y":0.03},{"k":"e","r":23,"x":0.4,"y":0.05},{"k":"e","r":23,"x":0.44,"y":0.01},{"k":"e","r":23,"x":0.48,"y":0.03},{"k":"e","r":23,"x":0.52,"y":0.06},{"k":"e","r":23,"x":0.56,"y":0.02},{"k":"e","r":23,"x":0.6,"y":0.04},{"k":"e","r":23,"x":0.64,"y":0.01},{"k":"e","r":23,"x":0.68,"y":0.03},{"k":"e","r":23,"x":0.72,"y":0},{"k":"e","r":23,"x":0.76,"y":0.02},{"k":"e","r":23,"x":0.8,"y":0.04},{"k":"e","r":23,"x":0.84,"y":0.01},{"k":"e","r":23,"x":0.88,"y":0.03},{"k":"e","r":23,"x":0.92,"y":0},{"k":"e","r":23,"x":0.96,"y":0.02},{"k":"e","r":23,"x":1,"y":0.01},
      {"k":"m","r":24,"x":0,"y":0},{"k":"m","r":24,"x":0.04,"y":-0.01},{"k":"m","r":24,"x":0.08,"y":0.01},{"k":"m","r":24,"x":0.12,"y":-0.02},{"k":"m","r":24,"x":0.16,"y":0},{"k":"m","r":24,"x":0.2,"y":-0.01},{"k":"m","r":24,"x":0.24,"y":-0.03},{"k":"m","r":24,"x":0.28,"y":0},{"k":"m","r":24,"x":0.32,"y":-0.02},{"k":"m","r":24,"x":0.36,"y":-0.01},{"k":"m","r":24,"x":0.4,"y":-0.03},{"k":"m","r":24,"x":0.44,"y":-0.02},{"k":"m","r":24,"x":0.48,"y":0},{"k":"m","r":24,"x":0.52,"y":-0.04},{"k":"m","r":24,"x":0.56,"y":-0.02},{"k":"m","r":24,"x":0.6,"y":-0.03},{"k":"m","r":24,"x":0.64,"y":-0.01},{"k":"m","r":24,"x":0.68,"y":-0.04},{"k":"m","r":24,"x":0.72,"y":-0.03},{"k":"m","r":24,"x":0.76,"y":-0.05},{"k":"m","r":24,"x":0.8,"y":-0.02},{"k":"m","r":24,"x":0.84,"y":-0.04},{"k":"m","r":24,"x":0.88,"y":-0.06},{"k":"m","r":24,"x":0.92,"y":-0.03},{"k":"m","r":24,"x":0.96,"y":-0.05},{"k":"m","r":24,"x":1,"y":-0.06}
    ],
    "runs3": [
      {"k":"m","r":1,"x":0,"y":0},{"k":"m","r":1,"x":0.04,"y":0.005},{"k":"m","r":1,"x":0.08,"y":0.01},{"k":"m","r":1,"x":0.12,"y":0.013},{"k":"m","r":1,"x":0.16,"y":0.01},{"k":"m","r":1,"x":0.2,"y":0.005},{"k":"m","r":1,"x":0.24,"y":0},{"k":"m","r":1,"x":0.28,"y":-0.004},{"k":"m","r":1,"x":0.32,"y":-0.008},{"k":"m","r":1,"x":0.36,"y":-0.005},{"k":"m","r":1,"x":0.4,"y":0},{"k":"m","r":1,"x":0.44,"y":0.008},{"k":"m","r":1,"x":0.48,"y":0.015},{"k":"m","r":1,"x":0.52,"y":0.01},{"k":"m","r":1,"x":0.56,"y":0},{"k":"m","r":1,"x":0.6,"y":-0.008},{"k":"m","r":1,"x":0.64,"y":-0.005},{"k":"m","r":1,"x":0.68,"y":0},{"k":"m","r":1,"x":0.72,"y":0.005},{"k":"m","r":1,"x":0.76,"y":0.008},{"k":"m","r":1,"x":0.8,"y":0.01},{"k":"m","r":1,"x":0.84,"y":0.008},{"k":"m","r":1,"x":0.88,"y":0.005},{"k":"m","r":1,"x":0.92,"y":0.003},{"k":"m","r":1,"x":0.96,"y":0},{"k":"m","r":1,"x":1,"y":-0.002},
      {"k":"m","r":2,"x":0,"y":0},{"k":"m","r":2,"x":0.04,"y":-0.005},{"k":"m","r":2,"x":0.08,"y":0.003},{"k":"m","r":2,"x":0.12,"y":-0.008},{"k":"m","r":2,"x":0.16,"y":0.002},{"k":"m","r":2,"x":0.2,"y":0},{"k":"m","r":2,"x":0.24,"y":0.008},{"k":"m","r":2,"x":0.28,"y":0.012},{"k":"m","r":2,"x":0.32,"y":0.005},{"k":"m","r":2,"x":0.36,"y":0.01},{"k":"m","r":2,"x":0.4,"y":0.003},{"k":"m","r":2,"x":0.44,"y":-0.004},{"k":"m","r":2,"x":0.48,"y":0.002},{"k":"m","r":2,"x":0.52,"y":0},{"k":"m","r":2,"x":0.56,"y":-0.006},{"k":"m","r":2,"x":0.6,"y":0.002},{"k":"m","r":2,"x":0.64,"y":0},{"k":"m","r":2,"x":0.68,"y":-0.003},{"k":"m","r":2,"x":0.72,"y":0.002},{"k":"m","r":2,"x":0.76,"y":-0.012},{"k":"m","r":2,"x":0.8,"y":-0.02},{"k":"m","r":2,"x":0.84,"y":-0.015},{"k":"m","r":2,"x":0.88,"y":-0.025},{"k":"m","r":2,"x":0.92,"y":-0.018},{"k":"m","r":2,"x":0.96,"y":-0.028},{"k":"m","r":2,"x":1,"y":-0.022},
      {"k":"t","r":3,"x":0,"y":0},{"k":"t","r":3,"x":0.04,"y":0.003},{"k":"t","r":3,"x":0.08,"y":-0.008},{"k":"t","r":3,"x":0.12,"y":0.005},{"k":"t","r":3,"x":0.16,"y":-0.01},{"k":"t","r":3,"x":0.2,"y":0.004},{"k":"t","r":3,"x":0.24,"y":0},{"k":"t","r":3,"x":0.28,"y":0.015},{"k":"t","r":3,"x":0.32,"y":0.005},{"k":"t","r":3,"x":0.36,"y":0.01},{"k":"t","r":3,"x":0.4,"y":0},{"k":"t","r":3,"x":0.44,"y":0.006},{"k":"t","r":3,"x":0.48,"y":-0.004},{"k":"t","r":3,"x":0.52,"y":0.005},{"k":"t","r":3,"x":0.56,"y":0},{"k":"t","r":3,"x":0.6,"y":-0.006},{"k":"t","r":3,"x":0.64,"y":-0.002},{"k":"t","r":3,"x":0.68,"y":0.004},{"k":"t","r":3,"x":0.72,"y":-0.005},{"k":"t","r":3,"x":0.76,"y":-0.015},{"k":"t","r":3,"x":0.8,"y":-0.01},{"k":"t","r":3,"x":0.84,"y":-0.022},{"k":"t","r":3,"x":0.88,"y":-0.012},{"k":"t","r":3,"x":0.92,"y":-0.03},{"k":"t","r":3,"x":0.96,"y":-0.02},{"k":"t","r":3,"x":1,"y":-0.026}
    ]
  },
  "vconcat": [
    {
      "hconcat": [
        {
          "title": "Target Only",
          "width": 393, "height": 337,
          "layer": [
            {"layer": [
              {"data": {"name": "runs1"}, "mark": {"type": "line", "strokeWidth": 0.9, "opacity": 0.25, "clip": true},
               "encoding": {
                 "x": {"field": "x", "type": "quantitative", "scale": {"domain": [-0.05, 1.05], "nice": false, "zero": false}, "axis": {"values": [0, 0.2, 0.4, 0.6, 0.8, 1], "format": ".1f", "title": null}},
                 "y": {"field": "y", "type": "quantitative", "scale": {"domain": [-0.3, 0.1], "nice": false, "zero": false}, "axis": {"values": [-0.3, -0.25, -0.2, -0.15, -0.1, -0.05, 0, 0.05, 0.1], "format": ".2f", "title": "Δ Accept Length"}},
                 "detail": {"field": "r", "type": "nominal"},
                 "color": {"field": "k", "type": "nominal", "scale": {"domain": ["t", "e", "m"], "range": ["#1c1b2e", "#7b3ff0", "#e8453b"]}, "legend": null}}},
              {"data": {"values": [{}]}, "mark": {"type": "rule", "color": "#707070", "strokeWidth": 0.8}, "encoding": {"y": {"datum": 0, "type": "quantitative"}}},
              {"data": {"name": "main1"}, "mark": {"type": "line", "strokeWidth": 2.6, "strokeJoin": "round", "clip": true},
               "encoding": {"x": {"field": "x", "type": "quantitative"}, "y": {"field": "y", "type": "quantitative"}, "color": {"field": "k", "type": "nominal", "legend": null}}},
              {"data": {"values": [{}]}, "mark": {"type": "rect", "fill": "white", "fillOpacity": 0.8, "stroke": "#cfcfcf", "strokeWidth": 0.8, "cornerRadius": 2.5},
               "encoding": {"x": {"datum": -0.037, "type": "quantitative"}, "x2": {"datum": 0.212}, "y": {"datum": -0.2332, "type": "quantitative"}, "y2": {"datum": -0.2941}}}
            ]},
            {"data": {"name": "leg"}, "layer": [
              {"mark": {"type": "rule", "strokeWidth": 2.6},
               "encoding": {"x": {"datum": -0.026, "type": "quantitative"}, "x2": {"datum": 0.0355}, "y": {"field": "k", "type": "nominal", "scale": {"domain": ["t", "e", "m"], "range": [280.75, 330.25], "padding": 0.5}, "axis": null}, "color": {"field": "k", "type": "nominal", "legend": null}}},
              {"mark": {"type": "text", "align": "left", "baseline": "middle", "font": "DejaVu Sans", "fontSize": 10.2, "color": "#1a1a1a"},
               "encoding": {"x": {"datum": 0.0607, "type": "quantitative"}, "y": {"field": "k", "type": "nominal", "axis": null}, "text": {"field": "lab"}}},
              {"mark": {"type": "text", "align": "left", "baseline": "middle", "font": "DejaVu Sans", "fontSize": 7.2, "dx": 14, "dy": 3, "color": "#1a1a1a"},
               "encoding": {"x": {"datum": 0.0607, "type": "quantitative"}, "y": {"field": "k", "type": "nominal", "axis": null}, "text": {"field": "sub"}}}
            ]}
          ],
          "resolve": {"scale": {"y": "independent"}}
        },
        {
          "title": "RS w/ CE Loss",
          "width": 393, "height": 337,
          "layer": [
            {"layer": [
              {"data": {"name": "runs2"}, "mark": {"type": "line", "strokeWidth": 0.9, "opacity": 0.25, "clip": true},
               "encoding": {
                 "x": {"field": "x", "type": "quantitative", "scale": {"domain": [-0.05, 1.05], "nice": false, "zero": false}, "axis": {"values": [0, 0.2, 0.4, 0.6, 0.8, 1], "format": ".1f", "title": "RL Training Progress (normalized)", "titlePadding": 4}},
                 "y": {"field": "y", "type": "quantitative", "scale": {"domain": [-0.3, 0.1], "nice": false, "zero": false}, "axis": {"values": [-0.3, -0.25, -0.2, -0.15, -0.1, -0.05, 0, 0.05, 0.1], "format": ".2f", "title": null}},
                 "detail": {"field": "r", "type": "nominal"},
                 "color": {"field": "k", "type": "nominal", "scale": {"domain": ["t", "e", "m"], "range": ["#1c1b2e", "#7b3ff0", "#e8453b"]}, "legend": null}}},
              {"data": {"values": [{}]}, "mark": {"type": "rule", "color": "#707070", "strokeWidth": 0.8}, "encoding": {"y": {"datum": 0, "type": "quantitative"}}},
              {"data": {"name": "main2"}, "mark": {"type": "line", "strokeWidth": 2.6, "strokeJoin": "round", "clip": true},
               "encoding": {"x": {"field": "x", "type": "quantitative"}, "y": {"field": "y", "type": "quantitative"}, "color": {"field": "k", "type": "nominal", "legend": null}}},
              {"data": {"values": [{}]}, "mark": {"type": "rect", "fill": "white", "fillOpacity": 0.8, "stroke": "#cfcfcf", "strokeWidth": 0.8, "cornerRadius": 2.5},
               "encoding": {"x": {"datum": -0.037, "type": "quantitative"}, "x2": {"datum": 0.212}, "y": {"datum": -0.2332, "type": "quantitative"}, "y2": {"datum": -0.2941}}}
            ]},
            {"data": {"name": "leg"}, "layer": [
              {"mark": {"type": "rule", "strokeWidth": 2.6},
               "encoding": {"x": {"datum": -0.026, "type": "quantitative"}, "x2": {"datum": 0.0355}, "y": {"field": "k", "type": "nominal", "scale": {"domain": ["t", "e", "m"], "range": [280.75, 330.25], "padding": 0.5}, "axis": null}, "color": {"field": "k", "type": "nominal", "legend": null}}},
              {"mark": {"type": "text", "align": "left", "baseline": "middle", "font": "DejaVu Sans", "fontSize": 10.2, "color": "#1a1a1a"},
               "encoding": {"x": {"datum": 0.0607, "type": "quantitative"}, "y": {"field": "k", "type": "nominal", "axis": null}, "text": {"field": "lab"}}},
              {"mark": {"type": "text", "align": "left", "baseline": "middle", "font": "DejaVu Sans", "fontSize": 7.2, "dx": 14, "dy": 3, "color": "#1a1a1a"},
               "encoding": {"x": {"datum": 0.0607, "type": "quantitative"}, "y": {"field": "k", "type": "nominal", "axis": null}, "text": {"field": "sub"}}}
            ]}
          ],
          "resolve": {"scale": {"y": "independent"}}
        },
        {
          "title": "RS w/ TV Loss",
          "width": 393, "height": 337,
          "layer": [
            {"layer": [
              {"data": {"name": "runs3"}, "mark": {"type": "line", "strokeWidth": 0.9, "opacity": 0.25, "clip": true},
               "encoding": {
                 "x": {"field": "x", "type": "quantitative", "scale": {"domain": [-0.05, 1.05], "nice": false, "zero": false}, "axis": {"values": [0, 0.2, 0.4, 0.6, 0.8, 1], "format": ".1f", "title": null}},
                 "y": {"field": "y", "type": "quantitative", "scale": {"domain": [-0.3, 0.1], "nice": false, "zero": false}, "axis": {"values": [-0.3, -0.25, -0.2, -0.15, -0.1, -0.05, 0, 0.05, 0.1], "format": ".2f", "title": null}},
                 "detail": {"field": "r", "type": "nominal"},
                 "color": {"field": "k", "type": "nominal", "scale": {"domain": ["t", "e", "m"], "range": ["#1c1b2e", "#7b3ff0", "#e8453b"]}, "legend": null}}},
              {"data": {"values": [{}]}, "mark": {"type": "rule", "color": "#707070", "strokeWidth": 0.8}, "encoding": {"y": {"datum": 0, "type": "quantitative"}}},
              {"data": {"name": "main3"}, "mark": {"type": "line", "strokeWidth": 2.6, "strokeJoin": "round", "clip": true},
               "encoding": {"x": {"field": "x", "type": "quantitative"}, "y": {"field": "y", "type": "quantitative"}, "color": {"field": "k", "type": "nominal", "legend": null}}},
              {"data": {"values": [{}]}, "mark": {"type": "rect", "fill": "white", "fillOpacity": 0.8, "stroke": "#cfcfcf", "strokeWidth": 0.8, "cornerRadius": 2.5},
               "encoding": {"x": {"datum": -0.037, "type": "quantitative"}, "x2": {"datum": 0.212}, "y": {"datum": -0.2332, "type": "quantitative"}, "y2": {"datum": -0.2941}}}
            ]},
            {"data": {"name": "leg"}, "layer": [
              {"mark": {"type": "rule", "strokeWidth": 2.6},
               "encoding": {"x": {"datum": -0.026, "type": "quantitative"}, "x2": {"datum": 0.0355}, "y": {"field": "k", "type": "nominal", "scale": {"domain": ["t", "e", "m"], "range": [280.75, 330.25], "padding": 0.5}, "axis": null}, "color": {"field": "k", "type": "nominal", "legend": null}}},
              {"mark": {"type": "text", "align": "left", "baseline": "middle", "font": "DejaVu Sans", "fontSize": 10.2, "color": "#1a1a1a"},
               "encoding": {"x": {"datum": 0.0607, "type": "quantitative"}, "y": {"field": "k", "type": "nominal", "axis": null}, "text": {"field": "lab"}}},
              {"mark": {"type": "text", "align": "left", "baseline": "middle", "font": "DejaVu Sans", "fontSize": 7.2, "dx": 14, "dy": 3, "color": "#1a1a1a"},
               "encoding": {"x": {"datum": 0.0607, "type": "quantitative"}, "y": {"field": "k", "type": "nominal", "axis": null}, "text": {"field": "sub"}}}
            ]}
          ],
          "resolve": {"scale": {"y": "independent"}}
        }
      ],
      "spacing": 54,
      "bounds": "flush"
    },
    {
      "width": 1295, "height": 155,
      "view": {"stroke": null},
      "data": {"name": "cap"},
      "encoding": {
        "y": {"field": "line", "type": "quantitative", "scale": {"domain": [1, 6], "range": [0, 155]}, "axis": null},
        "text": {"field": "text"}
      },
      "layer": [
        {"transform": [{"filter": "datum.part === 'L'"}],
         "mark": {"type": "text", "align": "left", "baseline": "alphabetic", "font": "DejaVu Serif", "fontSize": 25, "color": "#000000", "dx": -60},
         "encoding": {"x": {"datum": 0, "type": "quantitative", "scale": {"domain": [0, 1]}, "axis": null}}},
        {"transform": [{"filter": "datum.part === 'R'"}],
         "mark": {"type": "text", "align": "right", "baseline": "alphabetic", "font": "DejaVu Serif", "fontSize": 25, "color": "#000000"},
         "encoding": {"x": {"datum": 1, "type": "quantitative"}}},
        {"transform": [{"filter": "datum.part === 'S' && datum.line === 2"}],
         "mark": {"type": "text", "align": "left", "baseline": "alphabetic", "font": "DejaVu Serif", "fontSize": 17.5, "color": "#000000", "dx": 417, "dy": 5},
         "encoding": {"x": {"datum": 0, "type": "quantitative"}}},
        {"transform": [{"filter": "datum.part === 'M' && datum.line === 2"}],
         "mark": {"type": "text", "align": "left", "baseline": "alphabetic", "font": "DejaVu Serif", "fontSize": 25, "color": "#000000", "dx": 560},
         "encoding": {"x": {"datum": 0, "type": "quantitative"}}},
        {"transform": [{"filter": "datum.part === 'S' && datum.line === 3"}],
         "mark": {"type": "text", "align": "left", "baseline": "alphabetic", "font": "DejaVu Serif", "fontSize": 17.5, "color": "#000000", "dx": 125, "dy": 5},
         "encoding": {"x": {"datum": 0, "type": "quantitative"}}},
        {"transform": [{"filter": "datum.part === 'M' && datum.line === 3"}],
         "mark": {"type": "text", "align": "left", "baseline": "alphabetic", "font": "DejaVu Serif", "fontSize": 25, "color": "#000000", "dx": 220},
         "encoding": {"x": {"datum": 0, "type": "quantitative"}}}
      ]
    }
  ],
  "spacing": 43.5
}
